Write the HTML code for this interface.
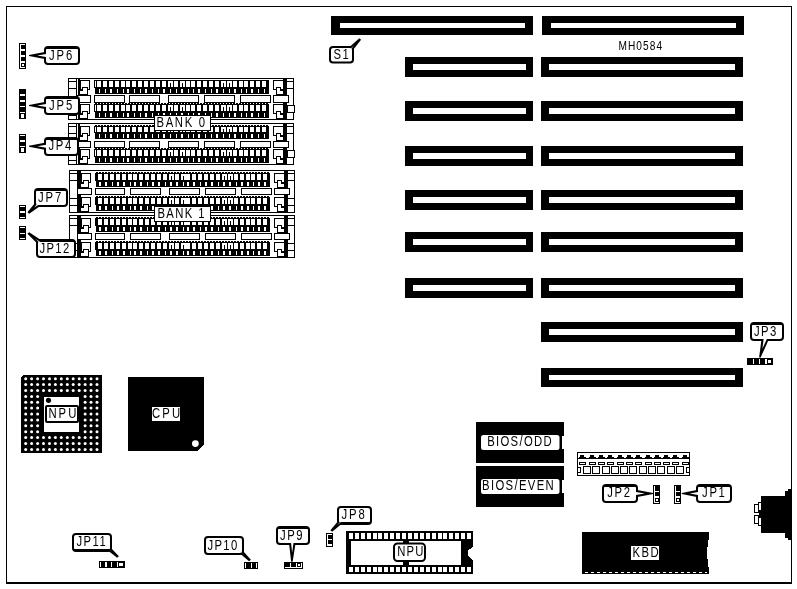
<!DOCTYPE html>
<html lang="en">
<head>
<meta charset="utf-8">
<title>MH0584 motherboard layout</title>
<style>
html,body{margin:0;padding:0;background:#fff;}
body{width:797px;height:589px;overflow:hidden;}
svg{display:block;will-change:transform;}
svg rect,svg polygon{shape-rendering:crispEdges;}
svg rect[rx],svg circle,svg .aa{shape-rendering:auto;}
svg text{font-family:"Liberation Sans",sans-serif;fill:#000;}
</style>
</head>
<body>
<svg width="797" height="589" viewBox="0 0 797 589">
<rect x="0" y="0" width="797" height="589" fill="#fff"/>
<rect x="6" y="6" width="786" height="578" fill="#000"/>
<rect x="7" y="7" width="784" height="575" fill="#fff"/>
<rect x="331" y="16" width="202" height="19" fill="#000"/>
<rect x="340" y="23" width="185" height="5" fill="#fff"/>
<rect x="542" y="16" width="202" height="19" fill="#000"/>
<rect x="551" y="23" width="185" height="5" fill="#fff"/>
<rect x="541" y="57" width="202" height="20" fill="#000"/>
<rect x="549" y="64" width="186" height="6" fill="#fff"/>
<rect x="541" y="101" width="202" height="20" fill="#000"/>
<rect x="549" y="108" width="186" height="6" fill="#fff"/>
<rect x="541" y="146" width="202" height="20" fill="#000"/>
<rect x="549" y="153" width="186" height="6" fill="#fff"/>
<rect x="541" y="190" width="202" height="20" fill="#000"/>
<rect x="549" y="197" width="186" height="6" fill="#fff"/>
<rect x="541" y="232" width="202" height="20" fill="#000"/>
<rect x="549" y="239" width="186" height="6" fill="#fff"/>
<rect x="541" y="278" width="202" height="20" fill="#000"/>
<rect x="549" y="285" width="186" height="6" fill="#fff"/>
<rect x="541" y="322" width="202" height="20" fill="#000"/>
<rect x="549" y="329" width="186" height="6" fill="#fff"/>
<rect x="541" y="368" width="202" height="19" fill="#000"/>
<rect x="549" y="375" width="186" height="5" fill="#fff"/>
<rect x="405" y="57" width="128" height="20" fill="#000"/>
<rect x="413" y="64" width="113" height="6" fill="#fff"/>
<rect x="405" y="101" width="128" height="20" fill="#000"/>
<rect x="413" y="108" width="113" height="6" fill="#fff"/>
<rect x="405" y="146" width="128" height="20" fill="#000"/>
<rect x="413" y="153" width="113" height="6" fill="#fff"/>
<rect x="405" y="190" width="128" height="20" fill="#000"/>
<rect x="413" y="197" width="113" height="6" fill="#fff"/>
<rect x="405" y="232" width="128" height="20" fill="#000"/>
<rect x="413" y="239" width="113" height="6" fill="#fff"/>
<rect x="405" y="278" width="128" height="20" fill="#000"/>
<rect x="413" y="285" width="113" height="6" fill="#fff"/>
<rect x="68" y="78" width="226" height="42" fill="#000"/>
<rect x="69" y="79" width="224" height="40" fill="#fff"/>
<rect x="76" y="78" width="1" height="42" fill="#000"/>
<rect x="68" y="81" width="9" height="1" fill="#000"/>
<rect x="68" y="88" width="9" height="1" fill="#000"/>
<rect x="68" y="115" width="9" height="1" fill="#000"/>
<rect x="287" y="81" width="7" height="1" fill="#000"/>
<rect x="287" y="88" width="7" height="1" fill="#000"/>
<rect x="287" y="105" width="7" height="1" fill="#000"/>
<rect x="287" y="112" width="7" height="1" fill="#000"/>
<rect x="287" y="105" width="8" height="8" fill="#000"/>
<rect x="288" y="106" width="6" height="6" fill="#fff"/>
<rect x="78" y="78" width="2" height="42" fill="#000"/>
<rect x="283" y="78" width="4" height="42" fill="#000"/>
<rect x="80" y="80" width="10" height="10" fill="#000"/>
<rect x="81" y="81" width="8" height="6" fill="#fff"/>
<rect x="81" y="87" width="1" height="2" fill="#fff"/>
<rect x="88" y="87" width="1" height="2" fill="#fff"/>
<rect x="80" y="89" width="8" height="6" fill="#000"/>
<rect x="83" y="88" width="4" height="6" fill="#fff"/>
<rect x="80" y="91" width="7" height="3" fill="#fff"/>
<rect x="273" y="80" width="11" height="10" fill="#000"/>
<rect x="274" y="81" width="9" height="6" fill="#fff"/>
<rect x="274" y="87" width="2" height="2" fill="#fff"/>
<rect x="281" y="87" width="2" height="2" fill="#fff"/>
<rect x="276" y="89" width="8" height="6" fill="#000"/>
<rect x="277" y="88" width="3" height="6" fill="#fff"/>
<rect x="277" y="91" width="6" height="3" fill="#fff"/>
<rect x="94" y="80" width="175" height="14" fill="#000"/>
<rect x="94" y="88" width="1" height="6" fill="#fff"/>
<rect x="95" y="81" width="1" height="6" fill="#fff"/>
<rect x="97" y="81" width="4" height="6" fill="#fff"/>
<rect x="99" y="89" width="1" height="4" fill="#fff"/>
<rect x="103" y="81" width="4" height="6" fill="#fff"/>
<rect x="105" y="89" width="1" height="4" fill="#fff"/>
<rect x="109" y="81" width="4" height="6" fill="#fff"/>
<rect x="110" y="89" width="2" height="4" fill="#fff"/>
<rect x="115" y="81" width="4" height="6" fill="#fff"/>
<rect x="117" y="89" width="1" height="4" fill="#fff"/>
<rect x="121" y="81" width="4" height="6" fill="#fff"/>
<rect x="123" y="89" width="1" height="4" fill="#fff"/>
<rect x="126" y="81" width="4" height="6" fill="#fff"/>
<rect x="127" y="89" width="2" height="4" fill="#fff"/>
<rect x="132" y="81" width="4" height="6" fill="#fff"/>
<rect x="134" y="89" width="1" height="4" fill="#fff"/>
<rect x="138" y="81" width="4" height="6" fill="#fff"/>
<rect x="140" y="89" width="1" height="4" fill="#fff"/>
<rect x="144" y="81" width="4" height="6" fill="#fff"/>
<rect x="145" y="89" width="2" height="4" fill="#fff"/>
<rect x="150" y="81" width="4" height="6" fill="#fff"/>
<rect x="152" y="89" width="1" height="4" fill="#fff"/>
<rect x="156" y="81" width="4" height="6" fill="#fff"/>
<rect x="158" y="89" width="1" height="4" fill="#fff"/>
<rect x="162" y="81" width="4" height="6" fill="#fff"/>
<rect x="163" y="89" width="2" height="4" fill="#fff"/>
<rect x="168" y="81" width="4" height="6" fill="#fff"/>
<rect x="170" y="89" width="1" height="4" fill="#fff"/>
<rect x="170" y="83" width="1" height="6" fill="#000"/>
<rect x="172" y="81" width="1" height="6" fill="#fff"/>
<rect x="174" y="81" width="4" height="6" fill="#fff"/>
<rect x="176" y="89" width="1" height="4" fill="#fff"/>
<rect x="180" y="81" width="4" height="6" fill="#fff"/>
<rect x="181" y="89" width="2" height="4" fill="#fff"/>
<rect x="182" y="83" width="1" height="6" fill="#000"/>
<rect x="184" y="81" width="1" height="6" fill="#fff"/>
<rect x="186" y="81" width="4" height="6" fill="#fff"/>
<rect x="188" y="89" width="1" height="4" fill="#fff"/>
<rect x="191" y="81" width="4" height="6" fill="#fff"/>
<rect x="193" y="89" width="1" height="4" fill="#fff"/>
<rect x="197" y="81" width="4" height="6" fill="#fff"/>
<rect x="198" y="89" width="2" height="4" fill="#fff"/>
<rect x="203" y="81" width="4" height="6" fill="#fff"/>
<rect x="205" y="89" width="1" height="4" fill="#fff"/>
<rect x="209" y="81" width="4" height="6" fill="#fff"/>
<rect x="211" y="89" width="1" height="4" fill="#fff"/>
<rect x="215" y="81" width="4" height="6" fill="#fff"/>
<rect x="216" y="89" width="2" height="4" fill="#fff"/>
<rect x="221" y="81" width="4" height="6" fill="#fff"/>
<rect x="223" y="89" width="1" height="4" fill="#fff"/>
<rect x="223" y="83" width="1" height="6" fill="#000"/>
<rect x="225" y="81" width="1" height="6" fill="#fff"/>
<rect x="227" y="81" width="4" height="6" fill="#fff"/>
<rect x="229" y="89" width="1" height="4" fill="#fff"/>
<rect x="229" y="83" width="1" height="6" fill="#000"/>
<rect x="231" y="81" width="1" height="6" fill="#fff"/>
<rect x="233" y="81" width="4" height="6" fill="#fff"/>
<rect x="234" y="89" width="2" height="4" fill="#fff"/>
<rect x="239" y="81" width="4" height="6" fill="#fff"/>
<rect x="241" y="89" width="1" height="4" fill="#fff"/>
<rect x="244" y="81" width="4" height="6" fill="#fff"/>
<rect x="246" y="89" width="1" height="4" fill="#fff"/>
<rect x="250" y="81" width="4" height="6" fill="#fff"/>
<rect x="251" y="89" width="2" height="4" fill="#fff"/>
<rect x="256" y="81" width="4" height="6" fill="#fff"/>
<rect x="258" y="89" width="1" height="4" fill="#fff"/>
<rect x="262" y="81" width="4" height="6" fill="#fff"/>
<rect x="264" y="89" width="1" height="4" fill="#fff"/>
<rect x="80" y="104" width="10" height="10" fill="#000"/>
<rect x="81" y="105" width="8" height="6" fill="#fff"/>
<rect x="81" y="111" width="1" height="2" fill="#fff"/>
<rect x="88" y="111" width="1" height="2" fill="#fff"/>
<rect x="80" y="113" width="8" height="6" fill="#000"/>
<rect x="83" y="112" width="4" height="6" fill="#fff"/>
<rect x="80" y="115" width="7" height="3" fill="#fff"/>
<rect x="273" y="104" width="11" height="10" fill="#000"/>
<rect x="274" y="105" width="9" height="6" fill="#fff"/>
<rect x="274" y="111" width="2" height="2" fill="#fff"/>
<rect x="281" y="111" width="2" height="2" fill="#fff"/>
<rect x="276" y="113" width="8" height="6" fill="#000"/>
<rect x="277" y="112" width="3" height="6" fill="#fff"/>
<rect x="277" y="115" width="6" height="3" fill="#fff"/>
<rect x="94" y="104" width="175" height="14" fill="#000"/>
<rect x="95" y="103" width="2" height="1" fill="#000"/>
<rect x="98" y="103" width="2" height="1" fill="#000"/>
<rect x="101" y="103" width="2" height="1" fill="#000"/>
<rect x="104" y="103" width="2" height="1" fill="#000"/>
<rect x="107" y="103" width="2" height="1" fill="#000"/>
<rect x="110" y="103" width="2" height="1" fill="#000"/>
<rect x="113" y="103" width="2" height="1" fill="#000"/>
<rect x="116" y="103" width="2" height="1" fill="#000"/>
<rect x="119" y="103" width="2" height="1" fill="#000"/>
<rect x="122" y="103" width="2" height="1" fill="#000"/>
<rect x="125" y="103" width="2" height="1" fill="#000"/>
<rect x="128" y="103" width="2" height="1" fill="#000"/>
<rect x="131" y="103" width="2" height="1" fill="#000"/>
<rect x="134" y="103" width="2" height="1" fill="#000"/>
<rect x="137" y="103" width="2" height="1" fill="#000"/>
<rect x="140" y="103" width="2" height="1" fill="#000"/>
<rect x="143" y="103" width="2" height="1" fill="#000"/>
<rect x="146" y="103" width="2" height="1" fill="#000"/>
<rect x="149" y="103" width="2" height="1" fill="#000"/>
<rect x="152" y="103" width="2" height="1" fill="#000"/>
<rect x="155" y="103" width="2" height="1" fill="#000"/>
<rect x="158" y="103" width="2" height="1" fill="#000"/>
<rect x="161" y="103" width="2" height="1" fill="#000"/>
<rect x="164" y="103" width="2" height="1" fill="#000"/>
<rect x="167" y="103" width="2" height="1" fill="#000"/>
<rect x="170" y="103" width="2" height="1" fill="#000"/>
<rect x="173" y="103" width="2" height="1" fill="#000"/>
<rect x="176" y="103" width="2" height="1" fill="#000"/>
<rect x="179" y="103" width="2" height="1" fill="#000"/>
<rect x="182" y="103" width="2" height="1" fill="#000"/>
<rect x="185" y="103" width="2" height="1" fill="#000"/>
<rect x="188" y="103" width="2" height="1" fill="#000"/>
<rect x="191" y="103" width="2" height="1" fill="#000"/>
<rect x="194" y="103" width="2" height="1" fill="#000"/>
<rect x="197" y="103" width="2" height="1" fill="#000"/>
<rect x="200" y="103" width="2" height="1" fill="#000"/>
<rect x="203" y="103" width="2" height="1" fill="#000"/>
<rect x="206" y="103" width="2" height="1" fill="#000"/>
<rect x="209" y="103" width="2" height="1" fill="#000"/>
<rect x="212" y="103" width="2" height="1" fill="#000"/>
<rect x="215" y="103" width="2" height="1" fill="#000"/>
<rect x="218" y="103" width="2" height="1" fill="#000"/>
<rect x="221" y="103" width="2" height="1" fill="#000"/>
<rect x="224" y="103" width="2" height="1" fill="#000"/>
<rect x="227" y="103" width="2" height="1" fill="#000"/>
<rect x="230" y="103" width="2" height="1" fill="#000"/>
<rect x="233" y="103" width="2" height="1" fill="#000"/>
<rect x="236" y="103" width="2" height="1" fill="#000"/>
<rect x="239" y="103" width="2" height="1" fill="#000"/>
<rect x="242" y="103" width="2" height="1" fill="#000"/>
<rect x="245" y="103" width="2" height="1" fill="#000"/>
<rect x="248" y="103" width="2" height="1" fill="#000"/>
<rect x="251" y="103" width="2" height="1" fill="#000"/>
<rect x="254" y="103" width="2" height="1" fill="#000"/>
<rect x="257" y="103" width="2" height="1" fill="#000"/>
<rect x="260" y="103" width="2" height="1" fill="#000"/>
<rect x="263" y="103" width="2" height="1" fill="#000"/>
<rect x="266" y="103" width="2" height="1" fill="#000"/>
<rect x="94" y="112" width="1" height="6" fill="#fff"/>
<rect x="95" y="105" width="1" height="6" fill="#fff"/>
<rect x="97" y="105" width="4" height="6" fill="#fff"/>
<rect x="99" y="113" width="1" height="4" fill="#fff"/>
<rect x="103" y="105" width="4" height="6" fill="#fff"/>
<rect x="105" y="113" width="1" height="4" fill="#fff"/>
<rect x="109" y="105" width="4" height="6" fill="#fff"/>
<rect x="110" y="113" width="2" height="4" fill="#fff"/>
<rect x="115" y="105" width="4" height="6" fill="#fff"/>
<rect x="117" y="113" width="1" height="4" fill="#fff"/>
<rect x="121" y="105" width="4" height="6" fill="#fff"/>
<rect x="123" y="113" width="1" height="4" fill="#fff"/>
<rect x="126" y="105" width="4" height="6" fill="#fff"/>
<rect x="127" y="113" width="2" height="4" fill="#fff"/>
<rect x="132" y="105" width="4" height="6" fill="#fff"/>
<rect x="134" y="113" width="1" height="4" fill="#fff"/>
<rect x="138" y="105" width="4" height="6" fill="#fff"/>
<rect x="140" y="113" width="1" height="4" fill="#fff"/>
<rect x="144" y="105" width="4" height="6" fill="#fff"/>
<rect x="145" y="113" width="2" height="4" fill="#fff"/>
<rect x="150" y="105" width="4" height="6" fill="#fff"/>
<rect x="152" y="113" width="1" height="4" fill="#fff"/>
<rect x="156" y="105" width="4" height="6" fill="#fff"/>
<rect x="158" y="113" width="1" height="4" fill="#fff"/>
<rect x="162" y="105" width="4" height="6" fill="#fff"/>
<rect x="163" y="113" width="2" height="4" fill="#fff"/>
<rect x="168" y="105" width="4" height="6" fill="#fff"/>
<rect x="170" y="113" width="1" height="4" fill="#fff"/>
<rect x="170" y="107" width="1" height="6" fill="#000"/>
<rect x="172" y="105" width="1" height="6" fill="#fff"/>
<rect x="174" y="105" width="4" height="6" fill="#fff"/>
<rect x="176" y="113" width="1" height="4" fill="#fff"/>
<rect x="180" y="105" width="4" height="6" fill="#fff"/>
<rect x="181" y="113" width="2" height="4" fill="#fff"/>
<rect x="182" y="107" width="1" height="6" fill="#000"/>
<rect x="184" y="105" width="1" height="6" fill="#fff"/>
<rect x="186" y="105" width="4" height="6" fill="#fff"/>
<rect x="188" y="113" width="1" height="4" fill="#fff"/>
<rect x="191" y="105" width="4" height="6" fill="#fff"/>
<rect x="193" y="113" width="1" height="4" fill="#fff"/>
<rect x="197" y="105" width="4" height="6" fill="#fff"/>
<rect x="198" y="113" width="2" height="4" fill="#fff"/>
<rect x="203" y="105" width="4" height="6" fill="#fff"/>
<rect x="205" y="113" width="1" height="4" fill="#fff"/>
<rect x="209" y="105" width="4" height="6" fill="#fff"/>
<rect x="211" y="113" width="1" height="4" fill="#fff"/>
<rect x="215" y="105" width="4" height="6" fill="#fff"/>
<rect x="216" y="113" width="2" height="4" fill="#fff"/>
<rect x="221" y="105" width="4" height="6" fill="#fff"/>
<rect x="223" y="113" width="1" height="4" fill="#fff"/>
<rect x="223" y="107" width="1" height="6" fill="#000"/>
<rect x="225" y="105" width="1" height="6" fill="#fff"/>
<rect x="227" y="105" width="4" height="6" fill="#fff"/>
<rect x="229" y="113" width="1" height="4" fill="#fff"/>
<rect x="229" y="107" width="1" height="6" fill="#000"/>
<rect x="231" y="105" width="1" height="6" fill="#fff"/>
<rect x="233" y="105" width="4" height="6" fill="#fff"/>
<rect x="234" y="113" width="2" height="4" fill="#fff"/>
<rect x="239" y="105" width="4" height="6" fill="#fff"/>
<rect x="241" y="113" width="1" height="4" fill="#fff"/>
<rect x="244" y="105" width="4" height="6" fill="#fff"/>
<rect x="246" y="113" width="1" height="4" fill="#fff"/>
<rect x="250" y="105" width="4" height="6" fill="#fff"/>
<rect x="251" y="113" width="2" height="4" fill="#fff"/>
<rect x="256" y="105" width="4" height="6" fill="#fff"/>
<rect x="258" y="113" width="1" height="4" fill="#fff"/>
<rect x="262" y="105" width="4" height="6" fill="#fff"/>
<rect x="264" y="113" width="1" height="4" fill="#fff"/>
<rect x="77" y="95" width="14" height="8" fill="#000"/>
<rect x="78" y="96" width="12" height="6" fill="#fff"/>
<rect x="273" y="95" width="16" height="8" fill="#000"/>
<rect x="274" y="96" width="14" height="6" fill="#fff"/>
<rect x="94" y="95" width="31" height="8" fill="#000"/>
<rect x="95" y="96" width="29" height="6" fill="#fff"/>
<rect x="129" y="95" width="31" height="8" fill="#000"/>
<rect x="130" y="96" width="29" height="6" fill="#fff"/>
<rect x="168" y="95" width="31" height="8" fill="#000"/>
<rect x="169" y="96" width="29" height="6" fill="#fff"/>
<rect x="204" y="95" width="31" height="8" fill="#000"/>
<rect x="205" y="96" width="29" height="6" fill="#fff"/>
<rect x="240" y="95" width="31" height="8" fill="#000"/>
<rect x="241" y="96" width="29" height="6" fill="#fff"/>
<rect x="68" y="123" width="226" height="42" fill="#000"/>
<rect x="69" y="124" width="224" height="40" fill="#fff"/>
<rect x="76" y="123" width="1" height="42" fill="#000"/>
<rect x="68" y="126" width="9" height="1" fill="#000"/>
<rect x="68" y="133" width="9" height="1" fill="#000"/>
<rect x="68" y="160" width="9" height="1" fill="#000"/>
<rect x="287" y="126" width="7" height="1" fill="#000"/>
<rect x="287" y="133" width="7" height="1" fill="#000"/>
<rect x="287" y="150" width="7" height="1" fill="#000"/>
<rect x="287" y="157" width="7" height="1" fill="#000"/>
<rect x="287" y="150" width="8" height="8" fill="#000"/>
<rect x="288" y="151" width="6" height="6" fill="#fff"/>
<rect x="78" y="123" width="2" height="42" fill="#000"/>
<rect x="283" y="123" width="4" height="42" fill="#000"/>
<rect x="80" y="126" width="10" height="10" fill="#000"/>
<rect x="81" y="127" width="8" height="6" fill="#fff"/>
<rect x="81" y="133" width="1" height="2" fill="#fff"/>
<rect x="88" y="133" width="1" height="2" fill="#fff"/>
<rect x="80" y="135" width="8" height="6" fill="#000"/>
<rect x="83" y="134" width="4" height="6" fill="#fff"/>
<rect x="80" y="137" width="7" height="3" fill="#fff"/>
<rect x="273" y="126" width="11" height="10" fill="#000"/>
<rect x="274" y="127" width="9" height="6" fill="#fff"/>
<rect x="274" y="133" width="2" height="2" fill="#fff"/>
<rect x="281" y="133" width="2" height="2" fill="#fff"/>
<rect x="276" y="135" width="8" height="6" fill="#000"/>
<rect x="277" y="134" width="3" height="6" fill="#fff"/>
<rect x="277" y="137" width="6" height="3" fill="#fff"/>
<rect x="94" y="126" width="175" height="13" fill="#000"/>
<rect x="95" y="125" width="2" height="1" fill="#000"/>
<rect x="98" y="125" width="2" height="1" fill="#000"/>
<rect x="101" y="125" width="2" height="1" fill="#000"/>
<rect x="104" y="125" width="2" height="1" fill="#000"/>
<rect x="107" y="125" width="2" height="1" fill="#000"/>
<rect x="110" y="125" width="2" height="1" fill="#000"/>
<rect x="113" y="125" width="2" height="1" fill="#000"/>
<rect x="116" y="125" width="2" height="1" fill="#000"/>
<rect x="119" y="125" width="2" height="1" fill="#000"/>
<rect x="122" y="125" width="2" height="1" fill="#000"/>
<rect x="125" y="125" width="2" height="1" fill="#000"/>
<rect x="128" y="125" width="2" height="1" fill="#000"/>
<rect x="131" y="125" width="2" height="1" fill="#000"/>
<rect x="134" y="125" width="2" height="1" fill="#000"/>
<rect x="137" y="125" width="2" height="1" fill="#000"/>
<rect x="140" y="125" width="2" height="1" fill="#000"/>
<rect x="143" y="125" width="2" height="1" fill="#000"/>
<rect x="146" y="125" width="2" height="1" fill="#000"/>
<rect x="149" y="125" width="2" height="1" fill="#000"/>
<rect x="152" y="125" width="2" height="1" fill="#000"/>
<rect x="155" y="125" width="2" height="1" fill="#000"/>
<rect x="158" y="125" width="2" height="1" fill="#000"/>
<rect x="161" y="125" width="2" height="1" fill="#000"/>
<rect x="164" y="125" width="2" height="1" fill="#000"/>
<rect x="167" y="125" width="2" height="1" fill="#000"/>
<rect x="170" y="125" width="2" height="1" fill="#000"/>
<rect x="173" y="125" width="2" height="1" fill="#000"/>
<rect x="176" y="125" width="2" height="1" fill="#000"/>
<rect x="179" y="125" width="2" height="1" fill="#000"/>
<rect x="182" y="125" width="2" height="1" fill="#000"/>
<rect x="185" y="125" width="2" height="1" fill="#000"/>
<rect x="188" y="125" width="2" height="1" fill="#000"/>
<rect x="191" y="125" width="2" height="1" fill="#000"/>
<rect x="194" y="125" width="2" height="1" fill="#000"/>
<rect x="197" y="125" width="2" height="1" fill="#000"/>
<rect x="200" y="125" width="2" height="1" fill="#000"/>
<rect x="203" y="125" width="2" height="1" fill="#000"/>
<rect x="206" y="125" width="2" height="1" fill="#000"/>
<rect x="209" y="125" width="2" height="1" fill="#000"/>
<rect x="212" y="125" width="2" height="1" fill="#000"/>
<rect x="215" y="125" width="2" height="1" fill="#000"/>
<rect x="218" y="125" width="2" height="1" fill="#000"/>
<rect x="221" y="125" width="2" height="1" fill="#000"/>
<rect x="224" y="125" width="2" height="1" fill="#000"/>
<rect x="227" y="125" width="2" height="1" fill="#000"/>
<rect x="230" y="125" width="2" height="1" fill="#000"/>
<rect x="233" y="125" width="2" height="1" fill="#000"/>
<rect x="236" y="125" width="2" height="1" fill="#000"/>
<rect x="239" y="125" width="2" height="1" fill="#000"/>
<rect x="242" y="125" width="2" height="1" fill="#000"/>
<rect x="245" y="125" width="2" height="1" fill="#000"/>
<rect x="248" y="125" width="2" height="1" fill="#000"/>
<rect x="251" y="125" width="2" height="1" fill="#000"/>
<rect x="254" y="125" width="2" height="1" fill="#000"/>
<rect x="257" y="125" width="2" height="1" fill="#000"/>
<rect x="260" y="125" width="2" height="1" fill="#000"/>
<rect x="263" y="125" width="2" height="1" fill="#000"/>
<rect x="266" y="125" width="2" height="1" fill="#000"/>
<rect x="94" y="133" width="1" height="6" fill="#fff"/>
<rect x="95" y="127" width="1" height="5" fill="#fff"/>
<rect x="97" y="127" width="4" height="5" fill="#fff"/>
<rect x="99" y="134" width="1" height="4" fill="#fff"/>
<rect x="103" y="127" width="4" height="5" fill="#fff"/>
<rect x="105" y="134" width="1" height="4" fill="#fff"/>
<rect x="109" y="127" width="4" height="5" fill="#fff"/>
<rect x="110" y="134" width="2" height="4" fill="#fff"/>
<rect x="115" y="127" width="4" height="5" fill="#fff"/>
<rect x="117" y="134" width="1" height="4" fill="#fff"/>
<rect x="121" y="127" width="4" height="5" fill="#fff"/>
<rect x="123" y="134" width="1" height="4" fill="#fff"/>
<rect x="126" y="127" width="4" height="5" fill="#fff"/>
<rect x="127" y="134" width="2" height="4" fill="#fff"/>
<rect x="132" y="127" width="4" height="5" fill="#fff"/>
<rect x="134" y="134" width="1" height="4" fill="#fff"/>
<rect x="138" y="127" width="4" height="5" fill="#fff"/>
<rect x="140" y="134" width="1" height="4" fill="#fff"/>
<rect x="144" y="127" width="4" height="5" fill="#fff"/>
<rect x="145" y="134" width="2" height="4" fill="#fff"/>
<rect x="150" y="127" width="4" height="5" fill="#fff"/>
<rect x="152" y="134" width="1" height="4" fill="#fff"/>
<rect x="156" y="127" width="4" height="5" fill="#fff"/>
<rect x="158" y="134" width="1" height="4" fill="#fff"/>
<rect x="162" y="127" width="4" height="5" fill="#fff"/>
<rect x="163" y="134" width="2" height="4" fill="#fff"/>
<rect x="168" y="127" width="4" height="5" fill="#fff"/>
<rect x="170" y="134" width="1" height="4" fill="#fff"/>
<rect x="170" y="129" width="1" height="5" fill="#000"/>
<rect x="172" y="127" width="1" height="5" fill="#fff"/>
<rect x="174" y="127" width="4" height="5" fill="#fff"/>
<rect x="176" y="134" width="1" height="4" fill="#fff"/>
<rect x="180" y="127" width="4" height="5" fill="#fff"/>
<rect x="181" y="134" width="2" height="4" fill="#fff"/>
<rect x="182" y="129" width="1" height="5" fill="#000"/>
<rect x="184" y="127" width="1" height="5" fill="#fff"/>
<rect x="186" y="127" width="4" height="5" fill="#fff"/>
<rect x="188" y="134" width="1" height="4" fill="#fff"/>
<rect x="191" y="127" width="4" height="5" fill="#fff"/>
<rect x="193" y="134" width="1" height="4" fill="#fff"/>
<rect x="197" y="127" width="4" height="5" fill="#fff"/>
<rect x="198" y="134" width="2" height="4" fill="#fff"/>
<rect x="203" y="127" width="4" height="5" fill="#fff"/>
<rect x="205" y="134" width="1" height="4" fill="#fff"/>
<rect x="209" y="127" width="4" height="5" fill="#fff"/>
<rect x="211" y="134" width="1" height="4" fill="#fff"/>
<rect x="215" y="127" width="4" height="5" fill="#fff"/>
<rect x="216" y="134" width="2" height="4" fill="#fff"/>
<rect x="221" y="127" width="4" height="5" fill="#fff"/>
<rect x="223" y="134" width="1" height="4" fill="#fff"/>
<rect x="223" y="129" width="1" height="5" fill="#000"/>
<rect x="225" y="127" width="1" height="5" fill="#fff"/>
<rect x="227" y="127" width="4" height="5" fill="#fff"/>
<rect x="229" y="134" width="1" height="4" fill="#fff"/>
<rect x="229" y="129" width="1" height="5" fill="#000"/>
<rect x="231" y="127" width="1" height="5" fill="#fff"/>
<rect x="233" y="127" width="4" height="5" fill="#fff"/>
<rect x="234" y="134" width="2" height="4" fill="#fff"/>
<rect x="239" y="127" width="4" height="5" fill="#fff"/>
<rect x="241" y="134" width="1" height="4" fill="#fff"/>
<rect x="244" y="127" width="4" height="5" fill="#fff"/>
<rect x="246" y="134" width="1" height="4" fill="#fff"/>
<rect x="250" y="127" width="4" height="5" fill="#fff"/>
<rect x="251" y="134" width="2" height="4" fill="#fff"/>
<rect x="256" y="127" width="4" height="5" fill="#fff"/>
<rect x="258" y="134" width="1" height="4" fill="#fff"/>
<rect x="262" y="127" width="4" height="5" fill="#fff"/>
<rect x="264" y="134" width="1" height="4" fill="#fff"/>
<rect x="80" y="149" width="10" height="10" fill="#000"/>
<rect x="81" y="150" width="8" height="6" fill="#fff"/>
<rect x="81" y="156" width="1" height="2" fill="#fff"/>
<rect x="88" y="156" width="1" height="2" fill="#fff"/>
<rect x="80" y="158" width="8" height="6" fill="#000"/>
<rect x="83" y="157" width="4" height="6" fill="#fff"/>
<rect x="80" y="160" width="7" height="3" fill="#fff"/>
<rect x="273" y="149" width="11" height="10" fill="#000"/>
<rect x="274" y="150" width="9" height="6" fill="#fff"/>
<rect x="274" y="156" width="2" height="2" fill="#fff"/>
<rect x="281" y="156" width="2" height="2" fill="#fff"/>
<rect x="276" y="158" width="8" height="6" fill="#000"/>
<rect x="277" y="157" width="3" height="6" fill="#fff"/>
<rect x="277" y="160" width="6" height="3" fill="#fff"/>
<rect x="94" y="149" width="175" height="14" fill="#000"/>
<rect x="95" y="148" width="2" height="1" fill="#000"/>
<rect x="98" y="148" width="2" height="1" fill="#000"/>
<rect x="101" y="148" width="2" height="1" fill="#000"/>
<rect x="104" y="148" width="2" height="1" fill="#000"/>
<rect x="107" y="148" width="2" height="1" fill="#000"/>
<rect x="110" y="148" width="2" height="1" fill="#000"/>
<rect x="113" y="148" width="2" height="1" fill="#000"/>
<rect x="116" y="148" width="2" height="1" fill="#000"/>
<rect x="119" y="148" width="2" height="1" fill="#000"/>
<rect x="122" y="148" width="2" height="1" fill="#000"/>
<rect x="125" y="148" width="2" height="1" fill="#000"/>
<rect x="128" y="148" width="2" height="1" fill="#000"/>
<rect x="131" y="148" width="2" height="1" fill="#000"/>
<rect x="134" y="148" width="2" height="1" fill="#000"/>
<rect x="137" y="148" width="2" height="1" fill="#000"/>
<rect x="140" y="148" width="2" height="1" fill="#000"/>
<rect x="143" y="148" width="2" height="1" fill="#000"/>
<rect x="146" y="148" width="2" height="1" fill="#000"/>
<rect x="149" y="148" width="2" height="1" fill="#000"/>
<rect x="152" y="148" width="2" height="1" fill="#000"/>
<rect x="155" y="148" width="2" height="1" fill="#000"/>
<rect x="158" y="148" width="2" height="1" fill="#000"/>
<rect x="161" y="148" width="2" height="1" fill="#000"/>
<rect x="164" y="148" width="2" height="1" fill="#000"/>
<rect x="167" y="148" width="2" height="1" fill="#000"/>
<rect x="170" y="148" width="2" height="1" fill="#000"/>
<rect x="173" y="148" width="2" height="1" fill="#000"/>
<rect x="176" y="148" width="2" height="1" fill="#000"/>
<rect x="179" y="148" width="2" height="1" fill="#000"/>
<rect x="182" y="148" width="2" height="1" fill="#000"/>
<rect x="185" y="148" width="2" height="1" fill="#000"/>
<rect x="188" y="148" width="2" height="1" fill="#000"/>
<rect x="191" y="148" width="2" height="1" fill="#000"/>
<rect x="194" y="148" width="2" height="1" fill="#000"/>
<rect x="197" y="148" width="2" height="1" fill="#000"/>
<rect x="200" y="148" width="2" height="1" fill="#000"/>
<rect x="203" y="148" width="2" height="1" fill="#000"/>
<rect x="206" y="148" width="2" height="1" fill="#000"/>
<rect x="209" y="148" width="2" height="1" fill="#000"/>
<rect x="212" y="148" width="2" height="1" fill="#000"/>
<rect x="215" y="148" width="2" height="1" fill="#000"/>
<rect x="218" y="148" width="2" height="1" fill="#000"/>
<rect x="221" y="148" width="2" height="1" fill="#000"/>
<rect x="224" y="148" width="2" height="1" fill="#000"/>
<rect x="227" y="148" width="2" height="1" fill="#000"/>
<rect x="230" y="148" width="2" height="1" fill="#000"/>
<rect x="233" y="148" width="2" height="1" fill="#000"/>
<rect x="236" y="148" width="2" height="1" fill="#000"/>
<rect x="239" y="148" width="2" height="1" fill="#000"/>
<rect x="242" y="148" width="2" height="1" fill="#000"/>
<rect x="245" y="148" width="2" height="1" fill="#000"/>
<rect x="248" y="148" width="2" height="1" fill="#000"/>
<rect x="251" y="148" width="2" height="1" fill="#000"/>
<rect x="254" y="148" width="2" height="1" fill="#000"/>
<rect x="257" y="148" width="2" height="1" fill="#000"/>
<rect x="260" y="148" width="2" height="1" fill="#000"/>
<rect x="263" y="148" width="2" height="1" fill="#000"/>
<rect x="266" y="148" width="2" height="1" fill="#000"/>
<rect x="94" y="157" width="1" height="6" fill="#fff"/>
<rect x="95" y="150" width="1" height="6" fill="#fff"/>
<rect x="97" y="150" width="4" height="6" fill="#fff"/>
<rect x="99" y="158" width="1" height="4" fill="#fff"/>
<rect x="103" y="150" width="4" height="6" fill="#fff"/>
<rect x="105" y="158" width="1" height="4" fill="#fff"/>
<rect x="109" y="150" width="4" height="6" fill="#fff"/>
<rect x="110" y="158" width="2" height="4" fill="#fff"/>
<rect x="115" y="150" width="4" height="6" fill="#fff"/>
<rect x="117" y="158" width="1" height="4" fill="#fff"/>
<rect x="121" y="150" width="4" height="6" fill="#fff"/>
<rect x="123" y="158" width="1" height="4" fill="#fff"/>
<rect x="126" y="150" width="4" height="6" fill="#fff"/>
<rect x="127" y="158" width="2" height="4" fill="#fff"/>
<rect x="132" y="150" width="4" height="6" fill="#fff"/>
<rect x="134" y="158" width="1" height="4" fill="#fff"/>
<rect x="138" y="150" width="4" height="6" fill="#fff"/>
<rect x="140" y="158" width="1" height="4" fill="#fff"/>
<rect x="144" y="150" width="4" height="6" fill="#fff"/>
<rect x="145" y="158" width="2" height="4" fill="#fff"/>
<rect x="150" y="150" width="4" height="6" fill="#fff"/>
<rect x="152" y="158" width="1" height="4" fill="#fff"/>
<rect x="156" y="150" width="4" height="6" fill="#fff"/>
<rect x="158" y="158" width="1" height="4" fill="#fff"/>
<rect x="162" y="150" width="4" height="6" fill="#fff"/>
<rect x="163" y="158" width="2" height="4" fill="#fff"/>
<rect x="168" y="150" width="4" height="6" fill="#fff"/>
<rect x="170" y="158" width="1" height="4" fill="#fff"/>
<rect x="170" y="152" width="1" height="6" fill="#000"/>
<rect x="172" y="150" width="1" height="6" fill="#fff"/>
<rect x="174" y="150" width="4" height="6" fill="#fff"/>
<rect x="176" y="158" width="1" height="4" fill="#fff"/>
<rect x="180" y="150" width="4" height="6" fill="#fff"/>
<rect x="181" y="158" width="2" height="4" fill="#fff"/>
<rect x="182" y="152" width="1" height="6" fill="#000"/>
<rect x="184" y="150" width="1" height="6" fill="#fff"/>
<rect x="186" y="150" width="4" height="6" fill="#fff"/>
<rect x="188" y="158" width="1" height="4" fill="#fff"/>
<rect x="191" y="150" width="4" height="6" fill="#fff"/>
<rect x="193" y="158" width="1" height="4" fill="#fff"/>
<rect x="197" y="150" width="4" height="6" fill="#fff"/>
<rect x="198" y="158" width="2" height="4" fill="#fff"/>
<rect x="203" y="150" width="4" height="6" fill="#fff"/>
<rect x="205" y="158" width="1" height="4" fill="#fff"/>
<rect x="209" y="150" width="4" height="6" fill="#fff"/>
<rect x="211" y="158" width="1" height="4" fill="#fff"/>
<rect x="215" y="150" width="4" height="6" fill="#fff"/>
<rect x="216" y="158" width="2" height="4" fill="#fff"/>
<rect x="221" y="150" width="4" height="6" fill="#fff"/>
<rect x="223" y="158" width="1" height="4" fill="#fff"/>
<rect x="223" y="152" width="1" height="6" fill="#000"/>
<rect x="225" y="150" width="1" height="6" fill="#fff"/>
<rect x="227" y="150" width="4" height="6" fill="#fff"/>
<rect x="229" y="158" width="1" height="4" fill="#fff"/>
<rect x="229" y="152" width="1" height="6" fill="#000"/>
<rect x="231" y="150" width="1" height="6" fill="#fff"/>
<rect x="233" y="150" width="4" height="6" fill="#fff"/>
<rect x="234" y="158" width="2" height="4" fill="#fff"/>
<rect x="239" y="150" width="4" height="6" fill="#fff"/>
<rect x="241" y="158" width="1" height="4" fill="#fff"/>
<rect x="244" y="150" width="4" height="6" fill="#fff"/>
<rect x="246" y="158" width="1" height="4" fill="#fff"/>
<rect x="250" y="150" width="4" height="6" fill="#fff"/>
<rect x="251" y="158" width="2" height="4" fill="#fff"/>
<rect x="256" y="150" width="4" height="6" fill="#fff"/>
<rect x="258" y="158" width="1" height="4" fill="#fff"/>
<rect x="262" y="150" width="4" height="6" fill="#fff"/>
<rect x="264" y="158" width="1" height="4" fill="#fff"/>
<rect x="77" y="141" width="14" height="7" fill="#000"/>
<rect x="78" y="142" width="12" height="5" fill="#fff"/>
<rect x="273" y="141" width="16" height="7" fill="#000"/>
<rect x="274" y="142" width="14" height="5" fill="#fff"/>
<rect x="94" y="141" width="31" height="7" fill="#000"/>
<rect x="95" y="142" width="29" height="5" fill="#fff"/>
<rect x="129" y="141" width="31" height="7" fill="#000"/>
<rect x="130" y="142" width="29" height="5" fill="#fff"/>
<rect x="168" y="141" width="31" height="7" fill="#000"/>
<rect x="169" y="142" width="29" height="5" fill="#fff"/>
<rect x="204" y="141" width="31" height="7" fill="#000"/>
<rect x="205" y="142" width="29" height="5" fill="#fff"/>
<rect x="240" y="141" width="31" height="7" fill="#000"/>
<rect x="241" y="142" width="29" height="5" fill="#fff"/>
<rect x="69" y="170" width="226" height="43" fill="#000"/>
<rect x="70" y="171" width="224" height="41" fill="#fff"/>
<rect x="69" y="173" width="8" height="1" fill="#000"/>
<rect x="69" y="180" width="8" height="1" fill="#000"/>
<rect x="69" y="198" width="8" height="1" fill="#000"/>
<rect x="69" y="205" width="8" height="1" fill="#000"/>
<rect x="288" y="173" width="7" height="1" fill="#000"/>
<rect x="288" y="180" width="7" height="1" fill="#000"/>
<rect x="288" y="198" width="7" height="1" fill="#000"/>
<rect x="288" y="205" width="7" height="1" fill="#000"/>
<rect x="77" y="170" width="4" height="43" fill="#000"/>
<rect x="284" y="170" width="4" height="43" fill="#000"/>
<rect x="81" y="173" width="10" height="10" fill="#000"/>
<rect x="82" y="174" width="8" height="6" fill="#fff"/>
<rect x="82" y="180" width="1" height="2" fill="#fff"/>
<rect x="89" y="180" width="1" height="2" fill="#fff"/>
<rect x="81" y="182" width="8" height="6" fill="#000"/>
<rect x="84" y="181" width="4" height="6" fill="#fff"/>
<rect x="81" y="184" width="7" height="3" fill="#fff"/>
<rect x="274" y="173" width="11" height="10" fill="#000"/>
<rect x="275" y="174" width="9" height="6" fill="#fff"/>
<rect x="275" y="180" width="2" height="2" fill="#fff"/>
<rect x="282" y="180" width="2" height="2" fill="#fff"/>
<rect x="277" y="182" width="8" height="6" fill="#000"/>
<rect x="278" y="181" width="3" height="6" fill="#fff"/>
<rect x="278" y="184" width="6" height="3" fill="#fff"/>
<rect x="95" y="173" width="175" height="14" fill="#000"/>
<rect x="96" y="172" width="2" height="1" fill="#000"/>
<rect x="99" y="172" width="2" height="1" fill="#000"/>
<rect x="102" y="172" width="2" height="1" fill="#000"/>
<rect x="105" y="172" width="2" height="1" fill="#000"/>
<rect x="108" y="172" width="2" height="1" fill="#000"/>
<rect x="111" y="172" width="2" height="1" fill="#000"/>
<rect x="114" y="172" width="2" height="1" fill="#000"/>
<rect x="117" y="172" width="2" height="1" fill="#000"/>
<rect x="120" y="172" width="2" height="1" fill="#000"/>
<rect x="123" y="172" width="2" height="1" fill="#000"/>
<rect x="126" y="172" width="2" height="1" fill="#000"/>
<rect x="129" y="172" width="2" height="1" fill="#000"/>
<rect x="132" y="172" width="2" height="1" fill="#000"/>
<rect x="135" y="172" width="2" height="1" fill="#000"/>
<rect x="138" y="172" width="2" height="1" fill="#000"/>
<rect x="141" y="172" width="2" height="1" fill="#000"/>
<rect x="144" y="172" width="2" height="1" fill="#000"/>
<rect x="147" y="172" width="2" height="1" fill="#000"/>
<rect x="150" y="172" width="2" height="1" fill="#000"/>
<rect x="153" y="172" width="2" height="1" fill="#000"/>
<rect x="156" y="172" width="2" height="1" fill="#000"/>
<rect x="159" y="172" width="2" height="1" fill="#000"/>
<rect x="162" y="172" width="2" height="1" fill="#000"/>
<rect x="165" y="172" width="2" height="1" fill="#000"/>
<rect x="168" y="172" width="2" height="1" fill="#000"/>
<rect x="171" y="172" width="2" height="1" fill="#000"/>
<rect x="174" y="172" width="2" height="1" fill="#000"/>
<rect x="177" y="172" width="2" height="1" fill="#000"/>
<rect x="180" y="172" width="2" height="1" fill="#000"/>
<rect x="183" y="172" width="2" height="1" fill="#000"/>
<rect x="186" y="172" width="2" height="1" fill="#000"/>
<rect x="189" y="172" width="2" height="1" fill="#000"/>
<rect x="192" y="172" width="2" height="1" fill="#000"/>
<rect x="195" y="172" width="2" height="1" fill="#000"/>
<rect x="198" y="172" width="2" height="1" fill="#000"/>
<rect x="201" y="172" width="2" height="1" fill="#000"/>
<rect x="204" y="172" width="2" height="1" fill="#000"/>
<rect x="207" y="172" width="2" height="1" fill="#000"/>
<rect x="210" y="172" width="2" height="1" fill="#000"/>
<rect x="213" y="172" width="2" height="1" fill="#000"/>
<rect x="216" y="172" width="2" height="1" fill="#000"/>
<rect x="219" y="172" width="2" height="1" fill="#000"/>
<rect x="222" y="172" width="2" height="1" fill="#000"/>
<rect x="225" y="172" width="2" height="1" fill="#000"/>
<rect x="228" y="172" width="2" height="1" fill="#000"/>
<rect x="231" y="172" width="2" height="1" fill="#000"/>
<rect x="234" y="172" width="2" height="1" fill="#000"/>
<rect x="237" y="172" width="2" height="1" fill="#000"/>
<rect x="240" y="172" width="2" height="1" fill="#000"/>
<rect x="243" y="172" width="2" height="1" fill="#000"/>
<rect x="246" y="172" width="2" height="1" fill="#000"/>
<rect x="249" y="172" width="2" height="1" fill="#000"/>
<rect x="252" y="172" width="2" height="1" fill="#000"/>
<rect x="255" y="172" width="2" height="1" fill="#000"/>
<rect x="258" y="172" width="2" height="1" fill="#000"/>
<rect x="261" y="172" width="2" height="1" fill="#000"/>
<rect x="264" y="172" width="2" height="1" fill="#000"/>
<rect x="267" y="172" width="2" height="1" fill="#000"/>
<rect x="95" y="181" width="1" height="6" fill="#fff"/>
<rect x="98" y="174" width="4" height="6" fill="#fff"/>
<rect x="99" y="182" width="2" height="4" fill="#fff"/>
<rect x="104" y="174" width="4" height="6" fill="#fff"/>
<rect x="105" y="182" width="2" height="4" fill="#fff"/>
<rect x="110" y="174" width="4" height="6" fill="#fff"/>
<rect x="112" y="182" width="1" height="4" fill="#fff"/>
<rect x="116" y="174" width="4" height="6" fill="#fff"/>
<rect x="117" y="182" width="2" height="4" fill="#fff"/>
<rect x="122" y="174" width="4" height="6" fill="#fff"/>
<rect x="123" y="182" width="2" height="4" fill="#fff"/>
<rect x="128" y="174" width="4" height="6" fill="#fff"/>
<rect x="130" y="182" width="1" height="4" fill="#fff"/>
<rect x="133" y="174" width="4" height="6" fill="#fff"/>
<rect x="134" y="182" width="2" height="4" fill="#fff"/>
<rect x="139" y="174" width="4" height="6" fill="#fff"/>
<rect x="140" y="182" width="2" height="4" fill="#fff"/>
<rect x="145" y="174" width="4" height="6" fill="#fff"/>
<rect x="147" y="182" width="1" height="4" fill="#fff"/>
<rect x="151" y="174" width="4" height="6" fill="#fff"/>
<rect x="152" y="182" width="2" height="4" fill="#fff"/>
<rect x="157" y="174" width="4" height="6" fill="#fff"/>
<rect x="158" y="182" width="2" height="4" fill="#fff"/>
<rect x="163" y="174" width="4" height="6" fill="#fff"/>
<rect x="165" y="182" width="1" height="4" fill="#fff"/>
<rect x="169" y="174" width="4" height="6" fill="#fff"/>
<rect x="170" y="182" width="2" height="4" fill="#fff"/>
<rect x="171" y="176" width="1" height="6" fill="#000"/>
<rect x="173" y="174" width="1" height="6" fill="#fff"/>
<rect x="175" y="174" width="4" height="6" fill="#fff"/>
<rect x="176" y="182" width="2" height="4" fill="#fff"/>
<rect x="181" y="174" width="4" height="6" fill="#fff"/>
<rect x="183" y="182" width="1" height="4" fill="#fff"/>
<rect x="183" y="176" width="1" height="6" fill="#000"/>
<rect x="185" y="174" width="1" height="6" fill="#fff"/>
<rect x="186" y="174" width="4" height="6" fill="#fff"/>
<rect x="187" y="182" width="2" height="4" fill="#fff"/>
<rect x="192" y="174" width="4" height="6" fill="#fff"/>
<rect x="193" y="182" width="2" height="4" fill="#fff"/>
<rect x="198" y="174" width="4" height="6" fill="#fff"/>
<rect x="200" y="182" width="1" height="4" fill="#fff"/>
<rect x="204" y="174" width="4" height="6" fill="#fff"/>
<rect x="205" y="182" width="2" height="4" fill="#fff"/>
<rect x="210" y="174" width="4" height="6" fill="#fff"/>
<rect x="211" y="182" width="2" height="4" fill="#fff"/>
<rect x="216" y="174" width="4" height="6" fill="#fff"/>
<rect x="218" y="182" width="1" height="4" fill="#fff"/>
<rect x="222" y="174" width="4" height="6" fill="#fff"/>
<rect x="223" y="182" width="2" height="4" fill="#fff"/>
<rect x="224" y="176" width="1" height="6" fill="#000"/>
<rect x="226" y="174" width="1" height="6" fill="#fff"/>
<rect x="228" y="174" width="4" height="6" fill="#fff"/>
<rect x="229" y="182" width="2" height="4" fill="#fff"/>
<rect x="230" y="176" width="1" height="6" fill="#000"/>
<rect x="232" y="174" width="1" height="6" fill="#fff"/>
<rect x="234" y="174" width="4" height="6" fill="#fff"/>
<rect x="236" y="182" width="1" height="4" fill="#fff"/>
<rect x="240" y="174" width="4" height="6" fill="#fff"/>
<rect x="241" y="182" width="2" height="4" fill="#fff"/>
<rect x="246" y="174" width="4" height="6" fill="#fff"/>
<rect x="247" y="182" width="2" height="4" fill="#fff"/>
<rect x="251" y="174" width="4" height="6" fill="#fff"/>
<rect x="253" y="182" width="1" height="4" fill="#fff"/>
<rect x="257" y="174" width="4" height="6" fill="#fff"/>
<rect x="258" y="182" width="2" height="4" fill="#fff"/>
<rect x="263" y="174" width="4" height="6" fill="#fff"/>
<rect x="264" y="182" width="2" height="4" fill="#fff"/>
<rect x="81" y="197" width="10" height="10" fill="#000"/>
<rect x="82" y="198" width="8" height="6" fill="#fff"/>
<rect x="82" y="204" width="1" height="2" fill="#fff"/>
<rect x="89" y="204" width="1" height="2" fill="#fff"/>
<rect x="81" y="206" width="8" height="6" fill="#000"/>
<rect x="84" y="205" width="4" height="6" fill="#fff"/>
<rect x="81" y="208" width="7" height="3" fill="#fff"/>
<rect x="274" y="197" width="11" height="10" fill="#000"/>
<rect x="275" y="198" width="9" height="6" fill="#fff"/>
<rect x="275" y="204" width="2" height="2" fill="#fff"/>
<rect x="282" y="204" width="2" height="2" fill="#fff"/>
<rect x="277" y="206" width="8" height="6" fill="#000"/>
<rect x="278" y="205" width="3" height="6" fill="#fff"/>
<rect x="278" y="208" width="6" height="3" fill="#fff"/>
<rect x="95" y="197" width="175" height="14" fill="#000"/>
<rect x="96" y="196" width="2" height="1" fill="#000"/>
<rect x="99" y="196" width="2" height="1" fill="#000"/>
<rect x="102" y="196" width="2" height="1" fill="#000"/>
<rect x="105" y="196" width="2" height="1" fill="#000"/>
<rect x="108" y="196" width="2" height="1" fill="#000"/>
<rect x="111" y="196" width="2" height="1" fill="#000"/>
<rect x="114" y="196" width="2" height="1" fill="#000"/>
<rect x="117" y="196" width="2" height="1" fill="#000"/>
<rect x="120" y="196" width="2" height="1" fill="#000"/>
<rect x="123" y="196" width="2" height="1" fill="#000"/>
<rect x="126" y="196" width="2" height="1" fill="#000"/>
<rect x="129" y="196" width="2" height="1" fill="#000"/>
<rect x="132" y="196" width="2" height="1" fill="#000"/>
<rect x="135" y="196" width="2" height="1" fill="#000"/>
<rect x="138" y="196" width="2" height="1" fill="#000"/>
<rect x="141" y="196" width="2" height="1" fill="#000"/>
<rect x="144" y="196" width="2" height="1" fill="#000"/>
<rect x="147" y="196" width="2" height="1" fill="#000"/>
<rect x="150" y="196" width="2" height="1" fill="#000"/>
<rect x="153" y="196" width="2" height="1" fill="#000"/>
<rect x="156" y="196" width="2" height="1" fill="#000"/>
<rect x="159" y="196" width="2" height="1" fill="#000"/>
<rect x="162" y="196" width="2" height="1" fill="#000"/>
<rect x="165" y="196" width="2" height="1" fill="#000"/>
<rect x="168" y="196" width="2" height="1" fill="#000"/>
<rect x="171" y="196" width="2" height="1" fill="#000"/>
<rect x="174" y="196" width="2" height="1" fill="#000"/>
<rect x="177" y="196" width="2" height="1" fill="#000"/>
<rect x="180" y="196" width="2" height="1" fill="#000"/>
<rect x="183" y="196" width="2" height="1" fill="#000"/>
<rect x="186" y="196" width="2" height="1" fill="#000"/>
<rect x="189" y="196" width="2" height="1" fill="#000"/>
<rect x="192" y="196" width="2" height="1" fill="#000"/>
<rect x="195" y="196" width="2" height="1" fill="#000"/>
<rect x="198" y="196" width="2" height="1" fill="#000"/>
<rect x="201" y="196" width="2" height="1" fill="#000"/>
<rect x="204" y="196" width="2" height="1" fill="#000"/>
<rect x="207" y="196" width="2" height="1" fill="#000"/>
<rect x="210" y="196" width="2" height="1" fill="#000"/>
<rect x="213" y="196" width="2" height="1" fill="#000"/>
<rect x="216" y="196" width="2" height="1" fill="#000"/>
<rect x="219" y="196" width="2" height="1" fill="#000"/>
<rect x="222" y="196" width="2" height="1" fill="#000"/>
<rect x="225" y="196" width="2" height="1" fill="#000"/>
<rect x="228" y="196" width="2" height="1" fill="#000"/>
<rect x="231" y="196" width="2" height="1" fill="#000"/>
<rect x="234" y="196" width="2" height="1" fill="#000"/>
<rect x="237" y="196" width="2" height="1" fill="#000"/>
<rect x="240" y="196" width="2" height="1" fill="#000"/>
<rect x="243" y="196" width="2" height="1" fill="#000"/>
<rect x="246" y="196" width="2" height="1" fill="#000"/>
<rect x="249" y="196" width="2" height="1" fill="#000"/>
<rect x="252" y="196" width="2" height="1" fill="#000"/>
<rect x="255" y="196" width="2" height="1" fill="#000"/>
<rect x="258" y="196" width="2" height="1" fill="#000"/>
<rect x="261" y="196" width="2" height="1" fill="#000"/>
<rect x="264" y="196" width="2" height="1" fill="#000"/>
<rect x="267" y="196" width="2" height="1" fill="#000"/>
<rect x="95" y="205" width="1" height="6" fill="#fff"/>
<rect x="98" y="198" width="4" height="6" fill="#fff"/>
<rect x="99" y="206" width="2" height="4" fill="#fff"/>
<rect x="104" y="198" width="4" height="6" fill="#fff"/>
<rect x="105" y="206" width="2" height="4" fill="#fff"/>
<rect x="110" y="198" width="4" height="6" fill="#fff"/>
<rect x="112" y="206" width="1" height="4" fill="#fff"/>
<rect x="116" y="198" width="4" height="6" fill="#fff"/>
<rect x="117" y="206" width="2" height="4" fill="#fff"/>
<rect x="122" y="198" width="4" height="6" fill="#fff"/>
<rect x="123" y="206" width="2" height="4" fill="#fff"/>
<rect x="128" y="198" width="4" height="6" fill="#fff"/>
<rect x="130" y="206" width="1" height="4" fill="#fff"/>
<rect x="133" y="198" width="4" height="6" fill="#fff"/>
<rect x="134" y="206" width="2" height="4" fill="#fff"/>
<rect x="139" y="198" width="4" height="6" fill="#fff"/>
<rect x="140" y="206" width="2" height="4" fill="#fff"/>
<rect x="145" y="198" width="4" height="6" fill="#fff"/>
<rect x="147" y="206" width="1" height="4" fill="#fff"/>
<rect x="151" y="198" width="4" height="6" fill="#fff"/>
<rect x="152" y="206" width="2" height="4" fill="#fff"/>
<rect x="157" y="198" width="4" height="6" fill="#fff"/>
<rect x="158" y="206" width="2" height="4" fill="#fff"/>
<rect x="163" y="198" width="4" height="6" fill="#fff"/>
<rect x="165" y="206" width="1" height="4" fill="#fff"/>
<rect x="169" y="198" width="4" height="6" fill="#fff"/>
<rect x="170" y="206" width="2" height="4" fill="#fff"/>
<rect x="171" y="200" width="1" height="6" fill="#000"/>
<rect x="173" y="198" width="1" height="6" fill="#fff"/>
<rect x="175" y="198" width="4" height="6" fill="#fff"/>
<rect x="176" y="206" width="2" height="4" fill="#fff"/>
<rect x="181" y="198" width="4" height="6" fill="#fff"/>
<rect x="183" y="206" width="1" height="4" fill="#fff"/>
<rect x="183" y="200" width="1" height="6" fill="#000"/>
<rect x="185" y="198" width="1" height="6" fill="#fff"/>
<rect x="186" y="198" width="4" height="6" fill="#fff"/>
<rect x="187" y="206" width="2" height="4" fill="#fff"/>
<rect x="192" y="198" width="4" height="6" fill="#fff"/>
<rect x="193" y="206" width="2" height="4" fill="#fff"/>
<rect x="198" y="198" width="4" height="6" fill="#fff"/>
<rect x="200" y="206" width="1" height="4" fill="#fff"/>
<rect x="204" y="198" width="4" height="6" fill="#fff"/>
<rect x="205" y="206" width="2" height="4" fill="#fff"/>
<rect x="210" y="198" width="4" height="6" fill="#fff"/>
<rect x="211" y="206" width="2" height="4" fill="#fff"/>
<rect x="216" y="198" width="4" height="6" fill="#fff"/>
<rect x="218" y="206" width="1" height="4" fill="#fff"/>
<rect x="222" y="198" width="4" height="6" fill="#fff"/>
<rect x="223" y="206" width="2" height="4" fill="#fff"/>
<rect x="224" y="200" width="1" height="6" fill="#000"/>
<rect x="226" y="198" width="1" height="6" fill="#fff"/>
<rect x="228" y="198" width="4" height="6" fill="#fff"/>
<rect x="229" y="206" width="2" height="4" fill="#fff"/>
<rect x="230" y="200" width="1" height="6" fill="#000"/>
<rect x="232" y="198" width="1" height="6" fill="#fff"/>
<rect x="234" y="198" width="4" height="6" fill="#fff"/>
<rect x="236" y="206" width="1" height="4" fill="#fff"/>
<rect x="240" y="198" width="4" height="6" fill="#fff"/>
<rect x="241" y="206" width="2" height="4" fill="#fff"/>
<rect x="246" y="198" width="4" height="6" fill="#fff"/>
<rect x="247" y="206" width="2" height="4" fill="#fff"/>
<rect x="251" y="198" width="4" height="6" fill="#fff"/>
<rect x="253" y="206" width="1" height="4" fill="#fff"/>
<rect x="257" y="198" width="4" height="6" fill="#fff"/>
<rect x="258" y="206" width="2" height="4" fill="#fff"/>
<rect x="263" y="198" width="4" height="6" fill="#fff"/>
<rect x="264" y="206" width="2" height="4" fill="#fff"/>
<rect x="77" y="188" width="15" height="7" fill="#000"/>
<rect x="78" y="189" width="13" height="5" fill="#fff"/>
<rect x="274" y="188" width="16" height="7" fill="#000"/>
<rect x="275" y="189" width="14" height="5" fill="#fff"/>
<rect x="95" y="188" width="30" height="7" fill="#000"/>
<rect x="96" y="189" width="28" height="5" fill="#fff"/>
<rect x="130" y="188" width="31" height="7" fill="#000"/>
<rect x="131" y="189" width="29" height="5" fill="#fff"/>
<rect x="169" y="188" width="31" height="7" fill="#000"/>
<rect x="170" y="189" width="29" height="5" fill="#fff"/>
<rect x="205" y="188" width="31" height="7" fill="#000"/>
<rect x="206" y="189" width="29" height="5" fill="#fff"/>
<rect x="241" y="188" width="31" height="7" fill="#000"/>
<rect x="242" y="189" width="29" height="5" fill="#fff"/>
<rect x="69" y="215" width="226" height="43" fill="#000"/>
<rect x="70" y="216" width="224" height="41" fill="#fff"/>
<rect x="69" y="218" width="8" height="1" fill="#000"/>
<rect x="69" y="225" width="8" height="1" fill="#000"/>
<rect x="69" y="243" width="8" height="1" fill="#000"/>
<rect x="69" y="250" width="8" height="1" fill="#000"/>
<rect x="288" y="218" width="7" height="1" fill="#000"/>
<rect x="288" y="225" width="7" height="1" fill="#000"/>
<rect x="288" y="243" width="7" height="1" fill="#000"/>
<rect x="288" y="250" width="7" height="1" fill="#000"/>
<rect x="77" y="215" width="4" height="43" fill="#000"/>
<rect x="284" y="215" width="4" height="43" fill="#000"/>
<rect x="81" y="218" width="10" height="10" fill="#000"/>
<rect x="82" y="219" width="8" height="6" fill="#fff"/>
<rect x="82" y="225" width="1" height="2" fill="#fff"/>
<rect x="89" y="225" width="1" height="2" fill="#fff"/>
<rect x="81" y="227" width="8" height="6" fill="#000"/>
<rect x="84" y="226" width="4" height="6" fill="#fff"/>
<rect x="81" y="229" width="7" height="3" fill="#fff"/>
<rect x="274" y="218" width="11" height="10" fill="#000"/>
<rect x="275" y="219" width="9" height="6" fill="#fff"/>
<rect x="275" y="225" width="2" height="2" fill="#fff"/>
<rect x="282" y="225" width="2" height="2" fill="#fff"/>
<rect x="277" y="227" width="8" height="6" fill="#000"/>
<rect x="278" y="226" width="3" height="6" fill="#fff"/>
<rect x="278" y="229" width="6" height="3" fill="#fff"/>
<rect x="95" y="218" width="175" height="14" fill="#000"/>
<rect x="96" y="217" width="2" height="1" fill="#000"/>
<rect x="99" y="217" width="2" height="1" fill="#000"/>
<rect x="102" y="217" width="2" height="1" fill="#000"/>
<rect x="105" y="217" width="2" height="1" fill="#000"/>
<rect x="108" y="217" width="2" height="1" fill="#000"/>
<rect x="111" y="217" width="2" height="1" fill="#000"/>
<rect x="114" y="217" width="2" height="1" fill="#000"/>
<rect x="117" y="217" width="2" height="1" fill="#000"/>
<rect x="120" y="217" width="2" height="1" fill="#000"/>
<rect x="123" y="217" width="2" height="1" fill="#000"/>
<rect x="126" y="217" width="2" height="1" fill="#000"/>
<rect x="129" y="217" width="2" height="1" fill="#000"/>
<rect x="132" y="217" width="2" height="1" fill="#000"/>
<rect x="135" y="217" width="2" height="1" fill="#000"/>
<rect x="138" y="217" width="2" height="1" fill="#000"/>
<rect x="141" y="217" width="2" height="1" fill="#000"/>
<rect x="144" y="217" width="2" height="1" fill="#000"/>
<rect x="147" y="217" width="2" height="1" fill="#000"/>
<rect x="150" y="217" width="2" height="1" fill="#000"/>
<rect x="153" y="217" width="2" height="1" fill="#000"/>
<rect x="156" y="217" width="2" height="1" fill="#000"/>
<rect x="159" y="217" width="2" height="1" fill="#000"/>
<rect x="162" y="217" width="2" height="1" fill="#000"/>
<rect x="165" y="217" width="2" height="1" fill="#000"/>
<rect x="168" y="217" width="2" height="1" fill="#000"/>
<rect x="171" y="217" width="2" height="1" fill="#000"/>
<rect x="174" y="217" width="2" height="1" fill="#000"/>
<rect x="177" y="217" width="2" height="1" fill="#000"/>
<rect x="180" y="217" width="2" height="1" fill="#000"/>
<rect x="183" y="217" width="2" height="1" fill="#000"/>
<rect x="186" y="217" width="2" height="1" fill="#000"/>
<rect x="189" y="217" width="2" height="1" fill="#000"/>
<rect x="192" y="217" width="2" height="1" fill="#000"/>
<rect x="195" y="217" width="2" height="1" fill="#000"/>
<rect x="198" y="217" width="2" height="1" fill="#000"/>
<rect x="201" y="217" width="2" height="1" fill="#000"/>
<rect x="204" y="217" width="2" height="1" fill="#000"/>
<rect x="207" y="217" width="2" height="1" fill="#000"/>
<rect x="210" y="217" width="2" height="1" fill="#000"/>
<rect x="213" y="217" width="2" height="1" fill="#000"/>
<rect x="216" y="217" width="2" height="1" fill="#000"/>
<rect x="219" y="217" width="2" height="1" fill="#000"/>
<rect x="222" y="217" width="2" height="1" fill="#000"/>
<rect x="225" y="217" width="2" height="1" fill="#000"/>
<rect x="228" y="217" width="2" height="1" fill="#000"/>
<rect x="231" y="217" width="2" height="1" fill="#000"/>
<rect x="234" y="217" width="2" height="1" fill="#000"/>
<rect x="237" y="217" width="2" height="1" fill="#000"/>
<rect x="240" y="217" width="2" height="1" fill="#000"/>
<rect x="243" y="217" width="2" height="1" fill="#000"/>
<rect x="246" y="217" width="2" height="1" fill="#000"/>
<rect x="249" y="217" width="2" height="1" fill="#000"/>
<rect x="252" y="217" width="2" height="1" fill="#000"/>
<rect x="255" y="217" width="2" height="1" fill="#000"/>
<rect x="258" y="217" width="2" height="1" fill="#000"/>
<rect x="261" y="217" width="2" height="1" fill="#000"/>
<rect x="264" y="217" width="2" height="1" fill="#000"/>
<rect x="267" y="217" width="2" height="1" fill="#000"/>
<rect x="95" y="226" width="1" height="6" fill="#fff"/>
<rect x="98" y="219" width="4" height="6" fill="#fff"/>
<rect x="99" y="227" width="2" height="4" fill="#fff"/>
<rect x="104" y="219" width="4" height="6" fill="#fff"/>
<rect x="105" y="227" width="2" height="4" fill="#fff"/>
<rect x="110" y="219" width="4" height="6" fill="#fff"/>
<rect x="112" y="227" width="1" height="4" fill="#fff"/>
<rect x="116" y="219" width="4" height="6" fill="#fff"/>
<rect x="117" y="227" width="2" height="4" fill="#fff"/>
<rect x="122" y="219" width="4" height="6" fill="#fff"/>
<rect x="123" y="227" width="2" height="4" fill="#fff"/>
<rect x="128" y="219" width="4" height="6" fill="#fff"/>
<rect x="130" y="227" width="1" height="4" fill="#fff"/>
<rect x="133" y="219" width="4" height="6" fill="#fff"/>
<rect x="134" y="227" width="2" height="4" fill="#fff"/>
<rect x="139" y="219" width="4" height="6" fill="#fff"/>
<rect x="140" y="227" width="2" height="4" fill="#fff"/>
<rect x="145" y="219" width="4" height="6" fill="#fff"/>
<rect x="147" y="227" width="1" height="4" fill="#fff"/>
<rect x="151" y="219" width="4" height="6" fill="#fff"/>
<rect x="152" y="227" width="2" height="4" fill="#fff"/>
<rect x="157" y="219" width="4" height="6" fill="#fff"/>
<rect x="158" y="227" width="2" height="4" fill="#fff"/>
<rect x="163" y="219" width="4" height="6" fill="#fff"/>
<rect x="165" y="227" width="1" height="4" fill="#fff"/>
<rect x="169" y="219" width="4" height="6" fill="#fff"/>
<rect x="170" y="227" width="2" height="4" fill="#fff"/>
<rect x="171" y="221" width="1" height="6" fill="#000"/>
<rect x="173" y="219" width="1" height="6" fill="#fff"/>
<rect x="175" y="219" width="4" height="6" fill="#fff"/>
<rect x="176" y="227" width="2" height="4" fill="#fff"/>
<rect x="181" y="219" width="4" height="6" fill="#fff"/>
<rect x="183" y="227" width="1" height="4" fill="#fff"/>
<rect x="183" y="221" width="1" height="6" fill="#000"/>
<rect x="185" y="219" width="1" height="6" fill="#fff"/>
<rect x="186" y="219" width="4" height="6" fill="#fff"/>
<rect x="187" y="227" width="2" height="4" fill="#fff"/>
<rect x="192" y="219" width="4" height="6" fill="#fff"/>
<rect x="193" y="227" width="2" height="4" fill="#fff"/>
<rect x="198" y="219" width="4" height="6" fill="#fff"/>
<rect x="200" y="227" width="1" height="4" fill="#fff"/>
<rect x="204" y="219" width="4" height="6" fill="#fff"/>
<rect x="205" y="227" width="2" height="4" fill="#fff"/>
<rect x="210" y="219" width="4" height="6" fill="#fff"/>
<rect x="211" y="227" width="2" height="4" fill="#fff"/>
<rect x="216" y="219" width="4" height="6" fill="#fff"/>
<rect x="218" y="227" width="1" height="4" fill="#fff"/>
<rect x="222" y="219" width="4" height="6" fill="#fff"/>
<rect x="223" y="227" width="2" height="4" fill="#fff"/>
<rect x="224" y="221" width="1" height="6" fill="#000"/>
<rect x="226" y="219" width="1" height="6" fill="#fff"/>
<rect x="228" y="219" width="4" height="6" fill="#fff"/>
<rect x="229" y="227" width="2" height="4" fill="#fff"/>
<rect x="230" y="221" width="1" height="6" fill="#000"/>
<rect x="232" y="219" width="1" height="6" fill="#fff"/>
<rect x="234" y="219" width="4" height="6" fill="#fff"/>
<rect x="236" y="227" width="1" height="4" fill="#fff"/>
<rect x="240" y="219" width="4" height="6" fill="#fff"/>
<rect x="241" y="227" width="2" height="4" fill="#fff"/>
<rect x="246" y="219" width="4" height="6" fill="#fff"/>
<rect x="247" y="227" width="2" height="4" fill="#fff"/>
<rect x="251" y="219" width="4" height="6" fill="#fff"/>
<rect x="253" y="227" width="1" height="4" fill="#fff"/>
<rect x="257" y="219" width="4" height="6" fill="#fff"/>
<rect x="258" y="227" width="2" height="4" fill="#fff"/>
<rect x="263" y="219" width="4" height="6" fill="#fff"/>
<rect x="264" y="227" width="2" height="4" fill="#fff"/>
<rect x="81" y="242" width="10" height="10" fill="#000"/>
<rect x="82" y="243" width="8" height="6" fill="#fff"/>
<rect x="82" y="249" width="1" height="2" fill="#fff"/>
<rect x="89" y="249" width="1" height="2" fill="#fff"/>
<rect x="81" y="251" width="8" height="6" fill="#000"/>
<rect x="84" y="250" width="4" height="6" fill="#fff"/>
<rect x="81" y="253" width="7" height="3" fill="#fff"/>
<rect x="274" y="242" width="11" height="10" fill="#000"/>
<rect x="275" y="243" width="9" height="6" fill="#fff"/>
<rect x="275" y="249" width="2" height="2" fill="#fff"/>
<rect x="282" y="249" width="2" height="2" fill="#fff"/>
<rect x="277" y="251" width="8" height="6" fill="#000"/>
<rect x="278" y="250" width="3" height="6" fill="#fff"/>
<rect x="278" y="253" width="6" height="3" fill="#fff"/>
<rect x="95" y="242" width="175" height="14" fill="#000"/>
<rect x="96" y="241" width="2" height="1" fill="#000"/>
<rect x="99" y="241" width="2" height="1" fill="#000"/>
<rect x="102" y="241" width="2" height="1" fill="#000"/>
<rect x="105" y="241" width="2" height="1" fill="#000"/>
<rect x="108" y="241" width="2" height="1" fill="#000"/>
<rect x="111" y="241" width="2" height="1" fill="#000"/>
<rect x="114" y="241" width="2" height="1" fill="#000"/>
<rect x="117" y="241" width="2" height="1" fill="#000"/>
<rect x="120" y="241" width="2" height="1" fill="#000"/>
<rect x="123" y="241" width="2" height="1" fill="#000"/>
<rect x="126" y="241" width="2" height="1" fill="#000"/>
<rect x="129" y="241" width="2" height="1" fill="#000"/>
<rect x="132" y="241" width="2" height="1" fill="#000"/>
<rect x="135" y="241" width="2" height="1" fill="#000"/>
<rect x="138" y="241" width="2" height="1" fill="#000"/>
<rect x="141" y="241" width="2" height="1" fill="#000"/>
<rect x="144" y="241" width="2" height="1" fill="#000"/>
<rect x="147" y="241" width="2" height="1" fill="#000"/>
<rect x="150" y="241" width="2" height="1" fill="#000"/>
<rect x="153" y="241" width="2" height="1" fill="#000"/>
<rect x="156" y="241" width="2" height="1" fill="#000"/>
<rect x="159" y="241" width="2" height="1" fill="#000"/>
<rect x="162" y="241" width="2" height="1" fill="#000"/>
<rect x="165" y="241" width="2" height="1" fill="#000"/>
<rect x="168" y="241" width="2" height="1" fill="#000"/>
<rect x="171" y="241" width="2" height="1" fill="#000"/>
<rect x="174" y="241" width="2" height="1" fill="#000"/>
<rect x="177" y="241" width="2" height="1" fill="#000"/>
<rect x="180" y="241" width="2" height="1" fill="#000"/>
<rect x="183" y="241" width="2" height="1" fill="#000"/>
<rect x="186" y="241" width="2" height="1" fill="#000"/>
<rect x="189" y="241" width="2" height="1" fill="#000"/>
<rect x="192" y="241" width="2" height="1" fill="#000"/>
<rect x="195" y="241" width="2" height="1" fill="#000"/>
<rect x="198" y="241" width="2" height="1" fill="#000"/>
<rect x="201" y="241" width="2" height="1" fill="#000"/>
<rect x="204" y="241" width="2" height="1" fill="#000"/>
<rect x="207" y="241" width="2" height="1" fill="#000"/>
<rect x="210" y="241" width="2" height="1" fill="#000"/>
<rect x="213" y="241" width="2" height="1" fill="#000"/>
<rect x="216" y="241" width="2" height="1" fill="#000"/>
<rect x="219" y="241" width="2" height="1" fill="#000"/>
<rect x="222" y="241" width="2" height="1" fill="#000"/>
<rect x="225" y="241" width="2" height="1" fill="#000"/>
<rect x="228" y="241" width="2" height="1" fill="#000"/>
<rect x="231" y="241" width="2" height="1" fill="#000"/>
<rect x="234" y="241" width="2" height="1" fill="#000"/>
<rect x="237" y="241" width="2" height="1" fill="#000"/>
<rect x="240" y="241" width="2" height="1" fill="#000"/>
<rect x="243" y="241" width="2" height="1" fill="#000"/>
<rect x="246" y="241" width="2" height="1" fill="#000"/>
<rect x="249" y="241" width="2" height="1" fill="#000"/>
<rect x="252" y="241" width="2" height="1" fill="#000"/>
<rect x="255" y="241" width="2" height="1" fill="#000"/>
<rect x="258" y="241" width="2" height="1" fill="#000"/>
<rect x="261" y="241" width="2" height="1" fill="#000"/>
<rect x="264" y="241" width="2" height="1" fill="#000"/>
<rect x="267" y="241" width="2" height="1" fill="#000"/>
<rect x="95" y="250" width="1" height="6" fill="#fff"/>
<rect x="98" y="243" width="4" height="6" fill="#fff"/>
<rect x="99" y="251" width="2" height="4" fill="#fff"/>
<rect x="104" y="243" width="4" height="6" fill="#fff"/>
<rect x="105" y="251" width="2" height="4" fill="#fff"/>
<rect x="110" y="243" width="4" height="6" fill="#fff"/>
<rect x="112" y="251" width="1" height="4" fill="#fff"/>
<rect x="116" y="243" width="4" height="6" fill="#fff"/>
<rect x="117" y="251" width="2" height="4" fill="#fff"/>
<rect x="122" y="243" width="4" height="6" fill="#fff"/>
<rect x="123" y="251" width="2" height="4" fill="#fff"/>
<rect x="128" y="243" width="4" height="6" fill="#fff"/>
<rect x="130" y="251" width="1" height="4" fill="#fff"/>
<rect x="133" y="243" width="4" height="6" fill="#fff"/>
<rect x="134" y="251" width="2" height="4" fill="#fff"/>
<rect x="139" y="243" width="4" height="6" fill="#fff"/>
<rect x="140" y="251" width="2" height="4" fill="#fff"/>
<rect x="145" y="243" width="4" height="6" fill="#fff"/>
<rect x="147" y="251" width="1" height="4" fill="#fff"/>
<rect x="151" y="243" width="4" height="6" fill="#fff"/>
<rect x="152" y="251" width="2" height="4" fill="#fff"/>
<rect x="157" y="243" width="4" height="6" fill="#fff"/>
<rect x="158" y="251" width="2" height="4" fill="#fff"/>
<rect x="163" y="243" width="4" height="6" fill="#fff"/>
<rect x="165" y="251" width="1" height="4" fill="#fff"/>
<rect x="169" y="243" width="4" height="6" fill="#fff"/>
<rect x="170" y="251" width="2" height="4" fill="#fff"/>
<rect x="171" y="245" width="1" height="6" fill="#000"/>
<rect x="173" y="243" width="1" height="6" fill="#fff"/>
<rect x="175" y="243" width="4" height="6" fill="#fff"/>
<rect x="176" y="251" width="2" height="4" fill="#fff"/>
<rect x="181" y="243" width="4" height="6" fill="#fff"/>
<rect x="183" y="251" width="1" height="4" fill="#fff"/>
<rect x="183" y="245" width="1" height="6" fill="#000"/>
<rect x="185" y="243" width="1" height="6" fill="#fff"/>
<rect x="186" y="243" width="4" height="6" fill="#fff"/>
<rect x="187" y="251" width="2" height="4" fill="#fff"/>
<rect x="192" y="243" width="4" height="6" fill="#fff"/>
<rect x="193" y="251" width="2" height="4" fill="#fff"/>
<rect x="198" y="243" width="4" height="6" fill="#fff"/>
<rect x="200" y="251" width="1" height="4" fill="#fff"/>
<rect x="204" y="243" width="4" height="6" fill="#fff"/>
<rect x="205" y="251" width="2" height="4" fill="#fff"/>
<rect x="210" y="243" width="4" height="6" fill="#fff"/>
<rect x="211" y="251" width="2" height="4" fill="#fff"/>
<rect x="216" y="243" width="4" height="6" fill="#fff"/>
<rect x="218" y="251" width="1" height="4" fill="#fff"/>
<rect x="222" y="243" width="4" height="6" fill="#fff"/>
<rect x="223" y="251" width="2" height="4" fill="#fff"/>
<rect x="224" y="245" width="1" height="6" fill="#000"/>
<rect x="226" y="243" width="1" height="6" fill="#fff"/>
<rect x="228" y="243" width="4" height="6" fill="#fff"/>
<rect x="229" y="251" width="2" height="4" fill="#fff"/>
<rect x="230" y="245" width="1" height="6" fill="#000"/>
<rect x="232" y="243" width="1" height="6" fill="#fff"/>
<rect x="234" y="243" width="4" height="6" fill="#fff"/>
<rect x="236" y="251" width="1" height="4" fill="#fff"/>
<rect x="240" y="243" width="4" height="6" fill="#fff"/>
<rect x="241" y="251" width="2" height="4" fill="#fff"/>
<rect x="246" y="243" width="4" height="6" fill="#fff"/>
<rect x="247" y="251" width="2" height="4" fill="#fff"/>
<rect x="251" y="243" width="4" height="6" fill="#fff"/>
<rect x="253" y="251" width="1" height="4" fill="#fff"/>
<rect x="257" y="243" width="4" height="6" fill="#fff"/>
<rect x="258" y="251" width="2" height="4" fill="#fff"/>
<rect x="263" y="243" width="4" height="6" fill="#fff"/>
<rect x="264" y="251" width="2" height="4" fill="#fff"/>
<rect x="77" y="233" width="15" height="7" fill="#000"/>
<rect x="78" y="234" width="13" height="5" fill="#fff"/>
<rect x="274" y="233" width="16" height="7" fill="#000"/>
<rect x="275" y="234" width="14" height="5" fill="#fff"/>
<rect x="95" y="233" width="30" height="7" fill="#000"/>
<rect x="96" y="234" width="28" height="5" fill="#fff"/>
<rect x="130" y="233" width="31" height="7" fill="#000"/>
<rect x="131" y="234" width="29" height="5" fill="#fff"/>
<rect x="169" y="233" width="31" height="7" fill="#000"/>
<rect x="170" y="234" width="29" height="5" fill="#fff"/>
<rect x="205" y="233" width="31" height="7" fill="#000"/>
<rect x="206" y="234" width="29" height="5" fill="#fff"/>
<rect x="241" y="233" width="31" height="7" fill="#000"/>
<rect x="242" y="234" width="29" height="5" fill="#fff"/>
<rect x="154" y="115" width="57" height="16" fill="#000"/>
<rect x="155" y="116" width="55" height="14" fill="#fff"/>
<text transform="translate(156.4 127) scale(0.78 1)" x="0" y="0" font-size="14.5" textLength="62.44" lengthAdjust="spacing" >BANK 0</text>
<rect x="154" y="206" width="57" height="16" fill="#000"/>
<rect x="155" y="207" width="55" height="14" fill="#fff"/>
<text transform="translate(157.4 218) scale(0.78 1)" x="0" y="0" font-size="14.5" textLength="60.51" lengthAdjust="spacing" >BANK 1</text>
<rect x="19" y="43" width="7" height="26" fill="#000"/>
<rect x="20" y="44" width="5" height="24" fill="#fff"/>
<rect x="21" y="45" width="4" height="4" fill="#000"/>
<rect x="21" y="51" width="4" height="4" fill="#000"/>
<rect x="21" y="57" width="4" height="4" fill="#000"/>
<rect x="20" y="62" width="5" height="6" fill="#fff"/>
<rect x="21" y="63" width="4" height="4" fill="#000"/>
<rect x="22" y="64" width="2" height="2" fill="#fff"/>
<rect x="19" y="89" width="7" height="30" fill="#000"/>
<rect x="20" y="94" width="5" height="2" fill="#fff"/>
<rect x="20" y="100" width="5" height="2" fill="#fff"/>
<rect x="20" y="106" width="5" height="1" fill="#fff"/>
<rect x="20" y="112" width="5" height="1" fill="#fff"/>
<rect x="21" y="114" width="3" height="4" fill="#fff"/>
<rect x="19" y="134" width="7" height="19" fill="#000"/>
<rect x="20" y="135" width="5" height="1" fill="#fff"/>
<rect x="20" y="140" width="5" height="2" fill="#fff"/>
<rect x="20" y="146" width="5" height="1" fill="#fff"/>
<rect x="21" y="148" width="3" height="4" fill="#fff"/>
<rect x="19" y="205" width="7" height="14" fill="#000"/>
<rect x="20" y="206" width="5" height="1" fill="#fff"/>
<rect x="20" y="211" width="5" height="2" fill="#fff"/>
<rect x="20" y="217" width="5" height="1" fill="#fff"/>
<rect x="19" y="226" width="7" height="14" fill="#000"/>
<rect x="20" y="227" width="5" height="1" fill="#fff"/>
<rect x="20" y="233" width="5" height="1" fill="#fff"/>
<rect x="20" y="238" width="5" height="1" fill="#fff"/>
<rect x="653" y="485" width="7" height="19" fill="#000"/>
<rect x="654" y="486" width="5" height="17" fill="#fff"/>
<rect x="655" y="486" width="4" height="5" fill="#000"/>
<rect x="655" y="492" width="4" height="4" fill="#000"/>
<rect x="654" y="497" width="5" height="6" fill="#fff"/>
<rect x="655" y="498" width="4" height="4" fill="#000"/>
<rect x="656" y="499" width="2" height="2" fill="#fff"/>
<rect x="674" y="485" width="7" height="19" fill="#000"/>
<rect x="675" y="486" width="5" height="17" fill="#fff"/>
<rect x="676" y="486" width="4" height="5" fill="#000"/>
<rect x="676" y="492" width="4" height="4" fill="#000"/>
<rect x="675" y="497" width="5" height="6" fill="#fff"/>
<rect x="676" y="498" width="4" height="4" fill="#000"/>
<rect x="677" y="499" width="2" height="2" fill="#fff"/>
<rect x="326" y="533" width="7" height="14" fill="#000"/>
<rect x="327" y="534" width="5" height="12" fill="#fff"/>
<rect x="328" y="535" width="4" height="4" fill="#000"/>
<rect x="328" y="540" width="4" height="4" fill="#000"/>
<rect x="747" y="358" width="26" height="7" fill="#000"/>
<rect x="753" y="359" width="1" height="5" fill="#fff"/>
<rect x="759" y="359" width="1" height="5" fill="#fff"/>
<rect x="765" y="359" width="2" height="5" fill="#fff"/>
<rect x="768" y="360" width="3" height="3" fill="#fff"/>
<rect x="284" y="562" width="19" height="7" fill="#000"/>
<rect x="285" y="563" width="17" height="5" fill="#fff"/>
<rect x="285" y="563" width="5" height="4" fill="#000"/>
<rect x="291" y="563" width="5" height="4" fill="#000"/>
<rect x="296" y="563" width="6" height="5" fill="#fff"/>
<rect x="297" y="563" width="4" height="4" fill="#000"/>
<rect x="298" y="564" width="2" height="2" fill="#fff"/>
<rect x="244" y="562" width="14" height="7" fill="#000"/>
<rect x="245" y="563" width="1" height="5" fill="#fff"/>
<rect x="251" y="563" width="1" height="5" fill="#fff"/>
<rect x="256" y="563" width="1" height="5" fill="#fff"/>
<rect x="99" y="561" width="26" height="7" fill="#000"/>
<rect x="100" y="562" width="1" height="5" fill="#fff"/>
<rect x="105" y="562" width="2" height="5" fill="#fff"/>
<rect x="111" y="562" width="1" height="5" fill="#fff"/>
<rect x="117" y="562" width="1" height="5" fill="#fff"/>
<rect x="119" y="563" width="4" height="3" fill="#fff"/>
<polygon points="46,51.8 46,59.2 29,56 29,55" fill="#000" class="aa"/>
<rect x="45" y="47" width="34" height="17" rx="3" ry="3" fill="#fff" stroke="#000" stroke-width="2"/>
<rect x="46" y="48" width="32" height="1" fill="#000"/>
<polygon points="47.6,53.7 47.6,57.3 37.16,55.5" fill="#fff" class="aa"/>
<text transform="translate(49.1 59.6) scale(0.78 1)" x="0" y="0" font-size="14.5" textLength="29.74" lengthAdjust="spacing" >JP6</text>
<polygon points="46,101.8 46,109.2 29,106 29,105" fill="#000" class="aa"/>
<rect x="45" y="97" width="34" height="17" rx="3" ry="3" fill="#fff" stroke="#000" stroke-width="2"/>
<rect x="46" y="98" width="32" height="1" fill="#000"/>
<polygon points="47.6,103.7 47.6,107.3 37.16,105.5" fill="#fff" class="aa"/>
<text transform="translate(49.1 109.6) scale(0.78 1)" x="0" y="0" font-size="14.5" textLength="29.74" lengthAdjust="spacing" >JP5</text>
<polygon points="46,142.6 46,150 29,146.8 29,145.8" fill="#000" class="aa"/>
<rect x="45" y="138" width="33" height="17" rx="3" ry="3" fill="#fff" stroke="#000" stroke-width="2"/>
<rect x="46" y="139" width="31" height="1" fill="#000"/>
<polygon points="47.6,144.5 47.6,148.1 37.16,146.3" fill="#fff" class="aa"/>
<text transform="translate(48.4 150) scale(0.78 1)" x="0" y="0" font-size="14.5" textLength="29.36" lengthAdjust="spacing" >JP4</text>
<polygon points="35,203 39.5,206.5 29.2078,213.706 27.3922,212.294" fill="#000" class="aa"/>
<rect x="35" y="189" width="32" height="17" rx="3" ry="3" fill="#fff" stroke="#000" stroke-width="2"/>
<rect x="36" y="190" width="30" height="1" fill="#000"/>
<polygon points="37.6762,203.082 39.1767,204.249 34.2965,207.472" fill="#fff" class="aa"/>
<text transform="translate(38 202) scale(0.78 1)" x="0" y="0" font-size="14.5" textLength="29.87" lengthAdjust="spacing" >JP7</text>
<polygon points="36.8,243 40.5,239.8 29.1698,232.248 27.4302,233.752" fill="#000" class="aa"/>
<rect x="37" y="240" width="38" height="17" rx="3" ry="3" fill="#fff" stroke="#000" stroke-width="2"/>
<rect x="38" y="241" width="36" height="1" fill="#000"/>
<polygon points="39.4794,242.765 40.3052,242.051 35.2345,238.628" fill="#fff" class="aa"/>
<text transform="translate(39.4 253) scale(0.78 1)" x="0" y="0" font-size="14.5" textLength="38.33" lengthAdjust="spacing" >JP12</text>
<polygon points="349.5,47 353,50 361.073,39.7484 359.327,38.2516" fill="#000" class="aa"/>
<rect x="330" y="47" width="23" height="15.5" rx="3" ry="3" fill="#fff" stroke="#000" stroke-width="2"/>
<polygon points="349.845,49.4011 350.46,49.9281 354.204,45.365" fill="#fff" class="aa"/>
<text transform="translate(333.4 58.7) scale(0.78 1)" x="0" y="0" font-size="14.5" textLength="19.62" lengthAdjust="spacing" >S1</text>
<polygon points="636,489.8 636,497.2 653,494 653,493" fill="#000" class="aa"/>
<rect x="603" y="485" width="34" height="17" rx="3" ry="3" fill="#fff" stroke="#000" stroke-width="2"/>
<rect x="604" y="486" width="32" height="1" fill="#000"/>
<polygon points="634.4,491.7 634.4,495.3 644.84,493.5" fill="#fff" class="aa"/>
<text transform="translate(607.2 497) scale(0.78 1)" x="0" y="0" font-size="14.5" textLength="29.36" lengthAdjust="spacing" >JP2</text>
<polygon points="698,489.8 698,497.2 681.8,494 681.8,493" fill="#000" class="aa"/>
<rect x="697" y="485" width="34" height="17" rx="3" ry="3" fill="#fff" stroke="#000" stroke-width="2"/>
<rect x="698" y="486" width="32" height="1" fill="#000"/>
<polygon points="699.6,491.7 699.6,495.3 689.576,493.5" fill="#fff" class="aa"/>
<text transform="translate(702.1 497) scale(0.78 1)" x="0" y="0" font-size="14.5" textLength="29.23" lengthAdjust="spacing" >JP1</text>
<polygon points="761.5,339 769,339 760.65,357.5 759.15,357.5" fill="#000" class="aa"/>
<rect x="751" y="323" width="32" height="17" rx="3" ry="3" fill="#fff" stroke="#000" stroke-width="2"/>
<rect x="752" y="324" width="30" height="1" fill="#000"/>
<polygon points="763.844,337.463 767.544,337.463 762.468,348.62" fill="#fff" class="aa"/>
<text transform="translate(754 335.6) scale(0.78 1)" x="0" y="0" font-size="14.5" textLength="28.59" lengthAdjust="spacing" >JP3</text>
<polygon points="337.8,521.5 341.5,524 332.253,531.644 330.347,530.356" fill="#000" class="aa"/>
<rect x="338" y="507" width="33" height="17" rx="3" ry="3" fill="#fff" stroke="#000" stroke-width="2"/>
<rect x="339" y="522" width="31" height="1" fill="#000"/>
<polygon points="340.512,521.439 341.064,521.812 336.894,525.472" fill="#fff" class="aa"/>
<text transform="translate(341.4 519) scale(0.78 1)" x="0" y="0" font-size="14.5" textLength="30.00" lengthAdjust="spacing" >JP8</text>
<polygon points="289,543 295.6,543 292.65,561.7 291.15,561.7" fill="#000" class="aa"/>
<rect x="277" y="527" width="32" height="17" rx="3" ry="3" fill="#fff" stroke="#000" stroke-width="2"/>
<rect x="278" y="528" width="30" height="1" fill="#000"/>
<polygon points="290.934,541.4 293.734,541.4 292.092,552.724" fill="#fff" class="aa"/>
<text transform="translate(280 539.6) scale(0.78 1)" x="0" y="0" font-size="14.5" textLength="28.85" lengthAdjust="spacing" >JP9</text>
<polygon points="240.5,554 243.5,551.5 250.883,559.764 249.117,561.236" fill="#000" class="aa"/>
<rect x="205" y="537" width="38" height="17" rx="3" ry="3" fill="#fff" stroke="#000" stroke-width="2"/>
<polygon points="240.81,551.67 240.891,551.603 244.64,555.308" fill="#fff" class="aa"/>
<text transform="translate(207.4 550) scale(0.78 1)" x="0" y="0" font-size="14.5" textLength="38.33" lengthAdjust="spacing" >JP10</text>
<polygon points="108.5,551 111.5,548.5 118.883,556.264 117.117,557.736" fill="#000" class="aa"/>
<rect x="73" y="534" width="38" height="17" rx="3" ry="3" fill="#fff" stroke="#000" stroke-width="2"/>
<rect x="74" y="549" width="36" height="1" fill="#000"/>
<polygon points="108.774,548.709 108.855,548.642 112.64,552.143" fill="#fff" class="aa"/>
<text transform="translate(76.4 546) scale(0.78 1)" x="0" y="0" font-size="14.5" textLength="37.69" lengthAdjust="spacing" >JP11</text>
<polygon points="23,375 102,375 102,453 21,453 21,377" fill="#000" />
<circle cx="25.7" cy="378.7" r="1.5" fill="#fff"/>
<circle cx="31.6" cy="378.7" r="1.5" fill="#fff"/>
<circle cx="37.6" cy="378.7" r="1.5" fill="#fff"/>
<circle cx="43.5" cy="378.7" r="1.5" fill="#fff"/>
<circle cx="49.5" cy="378.7" r="1.5" fill="#fff"/>
<circle cx="55.4" cy="378.7" r="1.5" fill="#fff"/>
<circle cx="61.3" cy="378.7" r="1.5" fill="#fff"/>
<circle cx="67.3" cy="378.7" r="1.5" fill="#fff"/>
<circle cx="73.2" cy="378.7" r="1.5" fill="#fff"/>
<circle cx="79.2" cy="378.7" r="1.5" fill="#fff"/>
<circle cx="85.1" cy="378.7" r="1.5" fill="#fff"/>
<circle cx="91.0" cy="378.7" r="1.5" fill="#fff"/>
<circle cx="97.0" cy="378.7" r="1.5" fill="#fff"/>
<circle cx="25.7" cy="384.6" r="1.5" fill="#fff"/>
<circle cx="31.6" cy="384.6" r="1.5" fill="#fff"/>
<circle cx="37.6" cy="384.6" r="1.5" fill="#fff"/>
<circle cx="43.5" cy="384.6" r="1.5" fill="#fff"/>
<circle cx="49.5" cy="384.6" r="1.5" fill="#fff"/>
<circle cx="55.4" cy="384.6" r="1.5" fill="#fff"/>
<circle cx="61.3" cy="384.6" r="1.5" fill="#fff"/>
<circle cx="67.3" cy="384.6" r="1.5" fill="#fff"/>
<circle cx="73.2" cy="384.6" r="1.5" fill="#fff"/>
<circle cx="79.2" cy="384.6" r="1.5" fill="#fff"/>
<circle cx="85.1" cy="384.6" r="1.5" fill="#fff"/>
<circle cx="91.0" cy="384.6" r="1.5" fill="#fff"/>
<circle cx="97.0" cy="384.6" r="1.5" fill="#fff"/>
<circle cx="25.7" cy="390.5" r="1.5" fill="#fff"/>
<circle cx="31.6" cy="390.5" r="1.5" fill="#fff"/>
<circle cx="37.6" cy="390.5" r="1.5" fill="#fff"/>
<circle cx="43.5" cy="390.5" r="1.5" fill="#fff"/>
<circle cx="49.5" cy="390.5" r="1.5" fill="#fff"/>
<circle cx="55.4" cy="390.5" r="1.5" fill="#fff"/>
<circle cx="61.3" cy="390.5" r="1.5" fill="#fff"/>
<circle cx="67.3" cy="390.5" r="1.5" fill="#fff"/>
<circle cx="73.2" cy="390.5" r="1.5" fill="#fff"/>
<circle cx="79.2" cy="390.5" r="1.5" fill="#fff"/>
<circle cx="85.1" cy="390.5" r="1.5" fill="#fff"/>
<circle cx="91.0" cy="390.5" r="1.5" fill="#fff"/>
<circle cx="97.0" cy="390.5" r="1.5" fill="#fff"/>
<circle cx="25.7" cy="396.4" r="1.5" fill="#fff"/>
<circle cx="31.6" cy="396.4" r="1.5" fill="#fff"/>
<circle cx="37.6" cy="396.4" r="1.5" fill="#fff"/>
<circle cx="85.1" cy="396.4" r="1.5" fill="#fff"/>
<circle cx="91.0" cy="396.4" r="1.5" fill="#fff"/>
<circle cx="97.0" cy="396.4" r="1.5" fill="#fff"/>
<circle cx="25.7" cy="402.3" r="1.5" fill="#fff"/>
<circle cx="31.6" cy="402.3" r="1.5" fill="#fff"/>
<circle cx="37.6" cy="402.3" r="1.5" fill="#fff"/>
<circle cx="85.1" cy="402.3" r="1.5" fill="#fff"/>
<circle cx="91.0" cy="402.3" r="1.5" fill="#fff"/>
<circle cx="97.0" cy="402.3" r="1.5" fill="#fff"/>
<circle cx="25.7" cy="408.1" r="1.5" fill="#fff"/>
<circle cx="31.6" cy="408.1" r="1.5" fill="#fff"/>
<circle cx="37.6" cy="408.1" r="1.5" fill="#fff"/>
<circle cx="85.1" cy="408.1" r="1.5" fill="#fff"/>
<circle cx="91.0" cy="408.1" r="1.5" fill="#fff"/>
<circle cx="97.0" cy="408.1" r="1.5" fill="#fff"/>
<circle cx="25.7" cy="414.0" r="1.5" fill="#fff"/>
<circle cx="31.6" cy="414.0" r="1.5" fill="#fff"/>
<circle cx="37.6" cy="414.0" r="1.5" fill="#fff"/>
<circle cx="85.1" cy="414.0" r="1.5" fill="#fff"/>
<circle cx="91.0" cy="414.0" r="1.5" fill="#fff"/>
<circle cx="97.0" cy="414.0" r="1.5" fill="#fff"/>
<circle cx="25.7" cy="419.9" r="1.5" fill="#fff"/>
<circle cx="31.6" cy="419.9" r="1.5" fill="#fff"/>
<circle cx="37.6" cy="419.9" r="1.5" fill="#fff"/>
<circle cx="85.1" cy="419.9" r="1.5" fill="#fff"/>
<circle cx="91.0" cy="419.9" r="1.5" fill="#fff"/>
<circle cx="97.0" cy="419.9" r="1.5" fill="#fff"/>
<circle cx="25.7" cy="425.8" r="1.5" fill="#fff"/>
<circle cx="31.6" cy="425.8" r="1.5" fill="#fff"/>
<circle cx="37.6" cy="425.8" r="1.5" fill="#fff"/>
<circle cx="85.1" cy="425.8" r="1.5" fill="#fff"/>
<circle cx="91.0" cy="425.8" r="1.5" fill="#fff"/>
<circle cx="97.0" cy="425.8" r="1.5" fill="#fff"/>
<circle cx="25.7" cy="431.7" r="1.5" fill="#fff"/>
<circle cx="31.6" cy="431.7" r="1.5" fill="#fff"/>
<circle cx="37.6" cy="431.7" r="1.5" fill="#fff"/>
<circle cx="85.1" cy="431.7" r="1.5" fill="#fff"/>
<circle cx="91.0" cy="431.7" r="1.5" fill="#fff"/>
<circle cx="97.0" cy="431.7" r="1.5" fill="#fff"/>
<circle cx="25.7" cy="437.6" r="1.5" fill="#fff"/>
<circle cx="31.6" cy="437.6" r="1.5" fill="#fff"/>
<circle cx="37.6" cy="437.6" r="1.5" fill="#fff"/>
<circle cx="43.5" cy="437.6" r="1.5" fill="#fff"/>
<circle cx="49.5" cy="437.6" r="1.5" fill="#fff"/>
<circle cx="55.4" cy="437.6" r="1.5" fill="#fff"/>
<circle cx="61.3" cy="437.6" r="1.5" fill="#fff"/>
<circle cx="67.3" cy="437.6" r="1.5" fill="#fff"/>
<circle cx="73.2" cy="437.6" r="1.5" fill="#fff"/>
<circle cx="79.2" cy="437.6" r="1.5" fill="#fff"/>
<circle cx="85.1" cy="437.6" r="1.5" fill="#fff"/>
<circle cx="91.0" cy="437.6" r="1.5" fill="#fff"/>
<circle cx="97.0" cy="437.6" r="1.5" fill="#fff"/>
<circle cx="25.7" cy="443.5" r="1.5" fill="#fff"/>
<circle cx="31.6" cy="443.5" r="1.5" fill="#fff"/>
<circle cx="37.6" cy="443.5" r="1.5" fill="#fff"/>
<circle cx="43.5" cy="443.5" r="1.5" fill="#fff"/>
<circle cx="49.5" cy="443.5" r="1.5" fill="#fff"/>
<circle cx="55.4" cy="443.5" r="1.5" fill="#fff"/>
<circle cx="61.3" cy="443.5" r="1.5" fill="#fff"/>
<circle cx="67.3" cy="443.5" r="1.5" fill="#fff"/>
<circle cx="73.2" cy="443.5" r="1.5" fill="#fff"/>
<circle cx="79.2" cy="443.5" r="1.5" fill="#fff"/>
<circle cx="85.1" cy="443.5" r="1.5" fill="#fff"/>
<circle cx="91.0" cy="443.5" r="1.5" fill="#fff"/>
<circle cx="97.0" cy="443.5" r="1.5" fill="#fff"/>
<circle cx="25.7" cy="449.4" r="1.5" fill="#fff"/>
<circle cx="31.6" cy="449.4" r="1.5" fill="#fff"/>
<circle cx="37.6" cy="449.4" r="1.5" fill="#fff"/>
<circle cx="43.5" cy="449.4" r="1.5" fill="#fff"/>
<circle cx="49.5" cy="449.4" r="1.5" fill="#fff"/>
<circle cx="55.4" cy="449.4" r="1.5" fill="#fff"/>
<circle cx="61.3" cy="449.4" r="1.5" fill="#fff"/>
<circle cx="67.3" cy="449.4" r="1.5" fill="#fff"/>
<circle cx="73.2" cy="449.4" r="1.5" fill="#fff"/>
<circle cx="79.2" cy="449.4" r="1.5" fill="#fff"/>
<circle cx="85.1" cy="449.4" r="1.5" fill="#fff"/>
<circle cx="91.0" cy="449.4" r="1.5" fill="#fff"/>
<circle cx="97.0" cy="449.4" r="1.5" fill="#fff"/>
<rect x="44" y="397" width="35" height="35" fill="#fff"/>
<circle cx="48.5" cy="400.3" r="2.6" fill="#000"/>
<rect x="46" y="406" width="32" height="16" rx="1" fill="#fff" stroke="#000" stroke-width="2"/>
<text transform="translate(48.4 417.8) scale(0.78 1)" x="0" y="0" font-size="14.5" textLength="35.90" lengthAdjust="spacing" >NPU</text>
<polygon points="128,377 204,377 204,444 197,451 128,451" fill="#000" />
<rect x="152" y="407" width="28" height="14" fill="#fff"/>
<text transform="translate(152.1 417.8) scale(0.78 1)" x="0" y="0" font-size="14.5" textLength="35.90" lengthAdjust="spacing" >CPU</text>
<circle cx="195.4" cy="443.6" r="3.4" fill="#fff"/>
<rect x="476" y="422" width="88" height="41" fill="#000"/>
<rect x="562" y="436" width="2" height="13" fill="#fff"/>
<rect x="481" y="435" width="78.5" height="15" rx="2.5" fill="#fff"/>
<text transform="translate(487.2 445.6) scale(0.78 1)" x="0" y="0" font-size="14.5" textLength="82.69" lengthAdjust="spacing" >BIOS/ODD</text>
<rect x="476" y="466" width="88" height="41" fill="#000"/>
<rect x="562" y="480" width="2" height="13" fill="#fff"/>
<rect x="481" y="479" width="78.5" height="15" rx="2.5" fill="#fff"/>
<text transform="translate(482.1 489.6) scale(0.78 1)" x="0" y="0" font-size="14.5" textLength="91.79" lengthAdjust="spacing" >BIOS/EVEN</text>
<rect x="577" y="452" width="113" height="24" fill="#000"/>
<rect x="578" y="453" width="111" height="22" fill="#fff"/>
<rect x="577" y="458" width="113" height="1" fill="#000"/>
<rect x="580" y="455" width="4" height="2" fill="#000"/>
<rect x="579" y="457" width="7" height="2" fill="#000"/>
<rect x="579" y="462" width="7" height="3" fill="#000"/>
<rect x="580" y="463" width="5" height="1" fill="#fff"/>
<rect x="590" y="455" width="4" height="2" fill="#000"/>
<rect x="589" y="457" width="7" height="2" fill="#000"/>
<rect x="589" y="462" width="7" height="3" fill="#000"/>
<rect x="590" y="463" width="5" height="1" fill="#fff"/>
<rect x="599" y="455" width="4" height="2" fill="#000"/>
<rect x="598" y="457" width="7" height="2" fill="#000"/>
<rect x="598" y="462" width="7" height="3" fill="#000"/>
<rect x="599" y="463" width="5" height="1" fill="#fff"/>
<rect x="608" y="455" width="4" height="2" fill="#000"/>
<rect x="607" y="457" width="7" height="2" fill="#000"/>
<rect x="607" y="462" width="7" height="3" fill="#000"/>
<rect x="608" y="463" width="5" height="1" fill="#fff"/>
<rect x="618" y="455" width="4" height="2" fill="#000"/>
<rect x="617" y="457" width="7" height="2" fill="#000"/>
<rect x="617" y="462" width="7" height="3" fill="#000"/>
<rect x="618" y="463" width="5" height="1" fill="#fff"/>
<rect x="627" y="455" width="4" height="2" fill="#000"/>
<rect x="626" y="457" width="7" height="2" fill="#000"/>
<rect x="626" y="462" width="7" height="3" fill="#000"/>
<rect x="627" y="463" width="5" height="1" fill="#fff"/>
<rect x="636" y="455" width="4" height="2" fill="#000"/>
<rect x="635" y="457" width="7" height="2" fill="#000"/>
<rect x="635" y="462" width="7" height="3" fill="#000"/>
<rect x="636" y="463" width="5" height="1" fill="#fff"/>
<rect x="646" y="455" width="4" height="2" fill="#000"/>
<rect x="645" y="457" width="7" height="2" fill="#000"/>
<rect x="645" y="462" width="7" height="3" fill="#000"/>
<rect x="646" y="463" width="5" height="1" fill="#fff"/>
<rect x="655" y="455" width="4" height="2" fill="#000"/>
<rect x="654" y="457" width="7" height="2" fill="#000"/>
<rect x="654" y="462" width="7" height="3" fill="#000"/>
<rect x="655" y="463" width="5" height="1" fill="#fff"/>
<rect x="664" y="455" width="4" height="2" fill="#000"/>
<rect x="663" y="457" width="7" height="2" fill="#000"/>
<rect x="663" y="462" width="7" height="3" fill="#000"/>
<rect x="664" y="463" width="5" height="1" fill="#fff"/>
<rect x="673" y="455" width="4" height="2" fill="#000"/>
<rect x="672" y="457" width="7" height="2" fill="#000"/>
<rect x="672" y="462" width="7" height="3" fill="#000"/>
<rect x="673" y="463" width="5" height="1" fill="#fff"/>
<rect x="683" y="455" width="4" height="2" fill="#000"/>
<rect x="682" y="457" width="7" height="2" fill="#000"/>
<rect x="682" y="462" width="7" height="3" fill="#000"/>
<rect x="683" y="463" width="5" height="1" fill="#fff"/>
<rect x="583" y="466" width="8" height="8" fill="#000"/>
<rect x="584" y="467" width="6" height="6" fill="#fff"/>
<rect x="592" y="466" width="8" height="8" fill="#000"/>
<rect x="593" y="467" width="6" height="6" fill="#fff"/>
<rect x="602" y="466" width="8" height="8" fill="#000"/>
<rect x="603" y="467" width="6" height="6" fill="#fff"/>
<rect x="611" y="466" width="8" height="8" fill="#000"/>
<rect x="612" y="467" width="6" height="6" fill="#fff"/>
<rect x="620" y="466" width="8" height="8" fill="#000"/>
<rect x="621" y="467" width="6" height="6" fill="#fff"/>
<rect x="629" y="466" width="8" height="8" fill="#000"/>
<rect x="630" y="467" width="6" height="6" fill="#fff"/>
<rect x="639" y="466" width="8" height="8" fill="#000"/>
<rect x="640" y="467" width="6" height="6" fill="#fff"/>
<rect x="648" y="466" width="8" height="8" fill="#000"/>
<rect x="649" y="467" width="6" height="6" fill="#fff"/>
<rect x="657" y="466" width="8" height="8" fill="#000"/>
<rect x="658" y="467" width="6" height="6" fill="#fff"/>
<rect x="667" y="466" width="8" height="8" fill="#000"/>
<rect x="668" y="467" width="6" height="6" fill="#fff"/>
<rect x="676" y="466" width="8" height="8" fill="#000"/>
<rect x="677" y="467" width="6" height="6" fill="#fff"/>
<rect x="577" y="467" width="4" height="6" fill="#000"/>
<rect x="578" y="468" width="2" height="4" fill="#fff"/>
<rect x="686" y="467" width="4" height="6" fill="#000"/>
<rect x="687" y="468" width="2" height="4" fill="#fff"/>
<rect x="761" y="496" width="31" height="37" fill="#000"/>
<rect x="785" y="491" width="7" height="47" fill="#000"/>
<rect x="788" y="489" width="4" height="51" fill="#000"/>
<rect x="754" y="504" width="5" height="9" fill="#000"/>
<rect x="755" y="505" width="3" height="7" fill="#fff"/>
<rect x="754" y="515" width="5" height="9" fill="#000"/>
<rect x="755" y="516" width="3" height="7" fill="#fff"/>
<rect x="758" y="502" width="4" height="9" fill="#000"/>
<rect x="759" y="503" width="2" height="7" fill="#fff"/>
<rect x="758" y="517" width="4" height="9" fill="#000"/>
<rect x="759" y="518" width="2" height="7" fill="#fff"/>
<rect x="759" y="511" width="2" height="6" fill="#000"/>
<rect x="582" y="532" width="127" height="42" fill="#000"/>
<rect x="708" y="540" width="1" height="27" fill="#fff"/>
<rect x="707" y="547" width="2" height="12" fill="#fff"/>
<rect x="585" y="572" width="3" height="1" fill="#fff"/>
<rect x="591" y="572" width="3" height="1" fill="#fff"/>
<rect x="597" y="572" width="3" height="1" fill="#fff"/>
<rect x="603" y="572" width="3" height="1" fill="#fff"/>
<rect x="609" y="572" width="3" height="1" fill="#fff"/>
<rect x="615" y="572" width="3" height="1" fill="#fff"/>
<rect x="621" y="572" width="3" height="1" fill="#fff"/>
<rect x="627" y="572" width="3" height="1" fill="#fff"/>
<rect x="633" y="572" width="3" height="1" fill="#fff"/>
<rect x="639" y="572" width="3" height="1" fill="#fff"/>
<rect x="645" y="572" width="3" height="1" fill="#fff"/>
<rect x="651" y="572" width="3" height="1" fill="#fff"/>
<rect x="657" y="572" width="3" height="1" fill="#fff"/>
<rect x="663" y="572" width="3" height="1" fill="#fff"/>
<rect x="669" y="572" width="3" height="1" fill="#fff"/>
<rect x="675" y="572" width="3" height="1" fill="#fff"/>
<rect x="681" y="572" width="3" height="1" fill="#fff"/>
<rect x="687" y="572" width="3" height="1" fill="#fff"/>
<rect x="693" y="572" width="3" height="1" fill="#fff"/>
<rect x="699" y="572" width="3" height="1" fill="#fff"/>
<rect x="705" y="572" width="2" height="1" fill="#fff"/>
<rect x="631" y="546" width="28" height="14" fill="#fff"/>
<text transform="translate(632.6 556.7) scale(0.78 1)" x="0" y="0" font-size="14.5" textLength="33.46" lengthAdjust="spacing" >KBD</text>
<rect x="346" y="531" width="127" height="43" fill="#000"/>
<rect x="351" y="541" width="110" height="24" fill="#fff"/>
<rect x="349" y="533" width="4" height="6" fill="#fff"/>
<rect x="349" y="567" width="4" height="5" fill="#fff"/>
<rect x="355" y="533" width="4" height="6" fill="#fff"/>
<rect x="355" y="567" width="4" height="5" fill="#fff"/>
<rect x="361" y="533" width="4" height="6" fill="#fff"/>
<rect x="361" y="567" width="4" height="5" fill="#fff"/>
<rect x="367" y="533" width="4" height="6" fill="#fff"/>
<rect x="367" y="567" width="4" height="5" fill="#fff"/>
<rect x="373" y="533" width="4" height="6" fill="#fff"/>
<rect x="373" y="567" width="4" height="5" fill="#fff"/>
<rect x="378" y="533" width="4" height="6" fill="#fff"/>
<rect x="378" y="567" width="4" height="5" fill="#fff"/>
<rect x="384" y="533" width="4" height="6" fill="#fff"/>
<rect x="384" y="567" width="4" height="5" fill="#fff"/>
<rect x="390" y="533" width="4" height="6" fill="#fff"/>
<rect x="390" y="567" width="4" height="5" fill="#fff"/>
<rect x="396" y="533" width="4" height="6" fill="#fff"/>
<rect x="396" y="567" width="4" height="5" fill="#fff"/>
<rect x="402" y="533" width="4" height="6" fill="#fff"/>
<rect x="402" y="567" width="4" height="5" fill="#fff"/>
<rect x="408" y="533" width="4" height="6" fill="#fff"/>
<rect x="408" y="567" width="4" height="5" fill="#fff"/>
<rect x="414" y="533" width="4" height="6" fill="#fff"/>
<rect x="414" y="567" width="4" height="5" fill="#fff"/>
<rect x="420" y="533" width="4" height="6" fill="#fff"/>
<rect x="420" y="567" width="4" height="5" fill="#fff"/>
<rect x="426" y="533" width="4" height="6" fill="#fff"/>
<rect x="426" y="567" width="4" height="5" fill="#fff"/>
<rect x="432" y="533" width="4" height="6" fill="#fff"/>
<rect x="432" y="567" width="4" height="5" fill="#fff"/>
<rect x="438" y="533" width="4" height="6" fill="#fff"/>
<rect x="438" y="567" width="4" height="5" fill="#fff"/>
<rect x="443" y="533" width="4" height="6" fill="#fff"/>
<rect x="443" y="567" width="4" height="5" fill="#fff"/>
<rect x="449" y="533" width="4" height="6" fill="#fff"/>
<rect x="449" y="567" width="4" height="5" fill="#fff"/>
<rect x="455" y="533" width="4" height="6" fill="#fff"/>
<rect x="455" y="567" width="4" height="5" fill="#fff"/>
<rect x="461" y="533" width="4" height="6" fill="#fff"/>
<rect x="461" y="567" width="4" height="5" fill="#fff"/>
<rect x="467" y="533" width="4" height="6" fill="#fff"/>
<rect x="467" y="567" width="4" height="5" fill="#fff"/>
<polygon points="473,546.5 468,550.5 468,556 473,560" fill="#fff" />
<rect x="403" y="541" width="6" height="24" fill="#000"/>
<rect x="394" y="543.5" width="31" height="17.5" rx="3.5" fill="#fff" stroke="#000" stroke-width="2"/>
<text transform="translate(397.2 555.7) scale(0.78 1)" x="0" y="0" font-size="14.5" textLength="33.59" lengthAdjust="spacing" >NPU</text>
<text transform="translate(618.4 50) scale(0.78 1)" x="0" y="0" font-size="13" textLength="56.03" lengthAdjust="spacing" >MH0584</text>
</svg>
</body>
</html>
